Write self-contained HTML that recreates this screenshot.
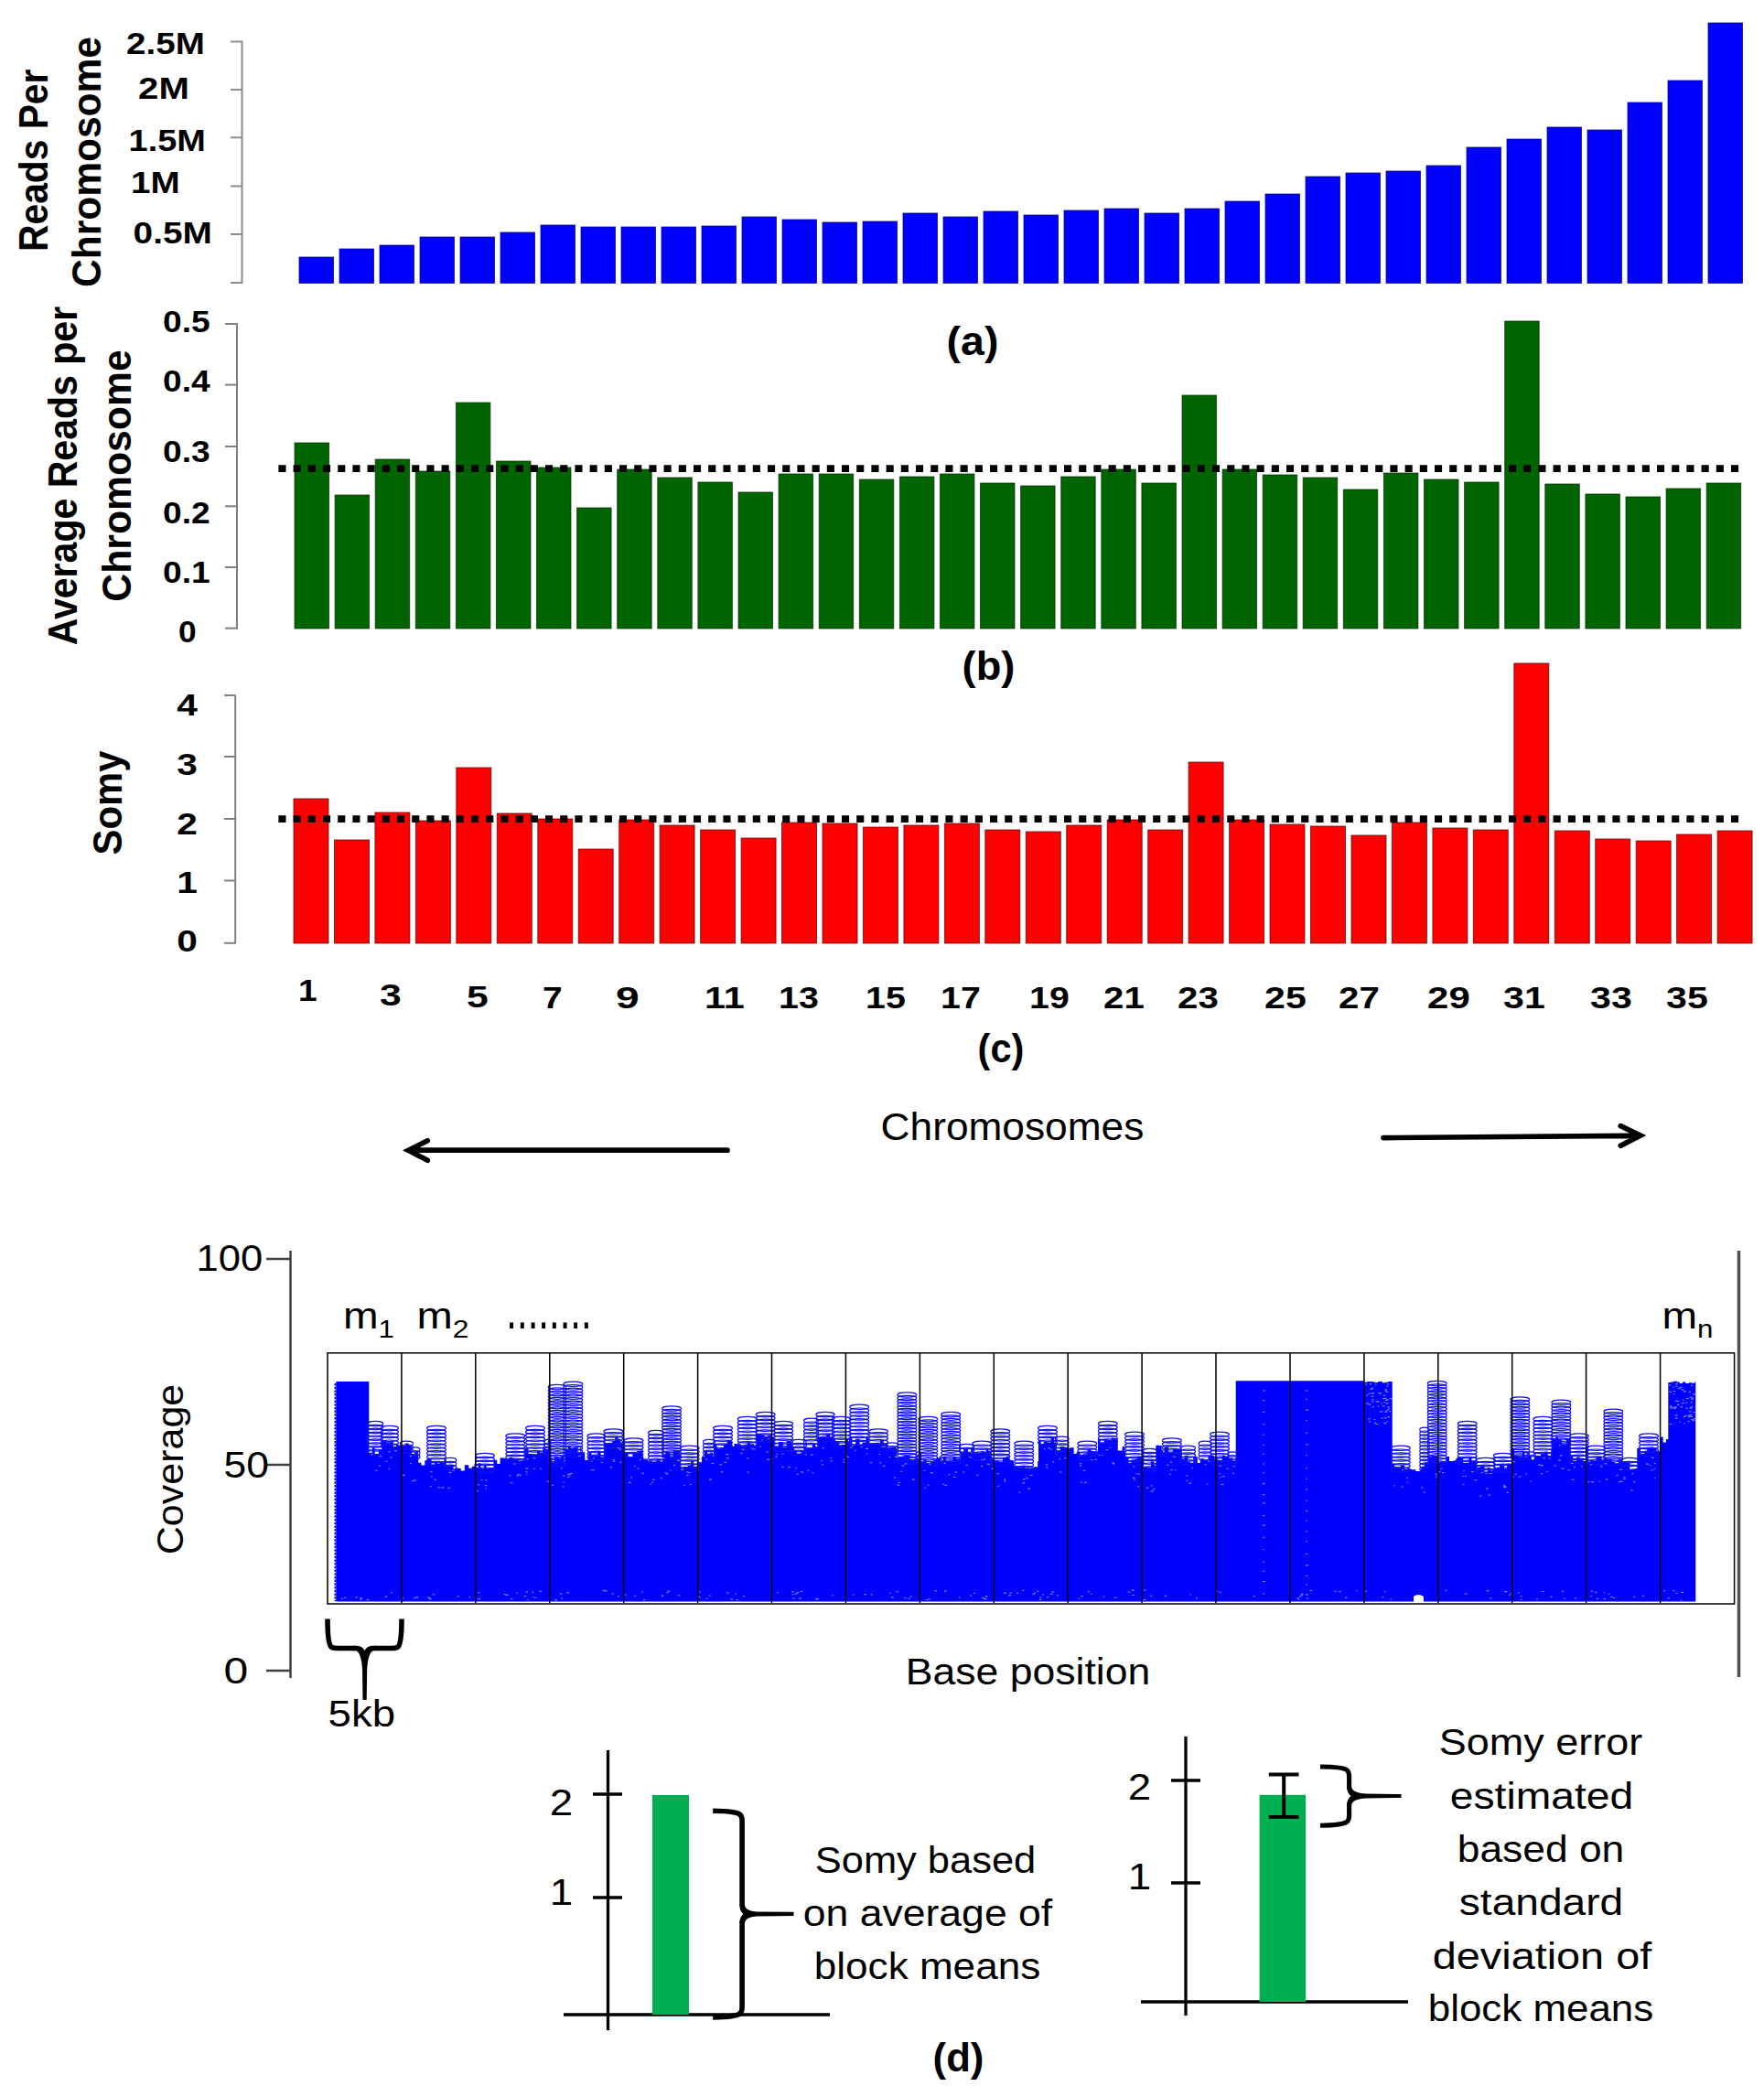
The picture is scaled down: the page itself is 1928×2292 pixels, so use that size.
<!DOCTYPE html>
<html lang="en"><head><meta charset="utf-8"><title>Figure</title>
<style>html,body{margin:0;padding:0;background:#fff}svg{display:block}</style></head>
<body>
<svg width="1928" height="2292" viewBox="0 0 1928 2292">
<rect width="1928" height="2292" fill="#fff"/>
<g fill="#0000ff" stroke="#000060" stroke-opacity=".7" stroke-width="1">
<rect x="327.0" y="281" width="37.5" height="28.5"/>
<rect x="371.0" y="272" width="37.5" height="37.5"/>
<rect x="415.0" y="268" width="37.5" height="41.5"/>
<rect x="459.0" y="259" width="37.5" height="50.5"/>
<rect x="503.0" y="259" width="37.5" height="50.5"/>
<rect x="547.0" y="254" width="37.5" height="55.5"/>
<rect x="591.0" y="246" width="37.5" height="63.5"/>
<rect x="635.0" y="248" width="37.5" height="61.5"/>
<rect x="679.0" y="248" width="37.5" height="61.5"/>
<rect x="723.0" y="248" width="37.5" height="61.5"/>
<rect x="767.0" y="247" width="37.5" height="62.5"/>
<rect x="811.0" y="237" width="37.5" height="72.5"/>
<rect x="855.0" y="240" width="37.5" height="69.5"/>
<rect x="899.0" y="243" width="37.5" height="66.5"/>
<rect x="943.0" y="242" width="37.5" height="67.5"/>
<rect x="987.0" y="233" width="37.5" height="76.5"/>
<rect x="1031.0" y="237" width="37.5" height="72.5"/>
<rect x="1075.0" y="231" width="37.5" height="78.5"/>
<rect x="1119.0" y="235" width="37.5" height="74.5"/>
<rect x="1163.0" y="230" width="37.5" height="79.5"/>
<rect x="1207.0" y="228" width="37.5" height="81.5"/>
<rect x="1251.0" y="233" width="37.5" height="76.5"/>
<rect x="1295.0" y="228" width="37.5" height="81.5"/>
<rect x="1339.0" y="220" width="37.5" height="89.5"/>
<rect x="1383.0" y="212" width="37.5" height="97.5"/>
<rect x="1427.0" y="193" width="37.5" height="116.5"/>
<rect x="1471.0" y="189" width="37.5" height="120.5"/>
<rect x="1515.0" y="187" width="37.5" height="122.5"/>
<rect x="1559.0" y="181" width="37.5" height="128.5"/>
<rect x="1603.0" y="161" width="37.5" height="148.5"/>
<rect x="1647.0" y="152" width="37.5" height="157.5"/>
<rect x="1691.0" y="139" width="37.5" height="170.5"/>
<rect x="1735.0" y="142" width="37.5" height="167.5"/>
<rect x="1779.0" y="112" width="37.5" height="197.5"/>
<rect x="1823.0" y="88" width="37.5" height="221.5"/>
<rect x="1867.0" y="25" width="37.5" height="284.5"/>
</g>
<g stroke="#8c8c8c" stroke-width="2" fill="none">
<path d="M264.5 44.5V310"/>
<path d="M252 45.5H264.5"/>
<path d="M252 98H264.5"/>
<path d="M252 150.3H264.5"/>
<path d="M252 203.5H264.5"/>
<path d="M252 256H264.5"/>
<path d="M252 309H264.5"/>
</g>
<g fill="#006400" stroke="#002a00" stroke-opacity=".7" stroke-width="1">
<rect x="322.0" y="484" width="37.5" height="203.0"/>
<rect x="366.1" y="541" width="37.5" height="146.0"/>
<rect x="410.2" y="502" width="37.5" height="185.0"/>
<rect x="454.3" y="515" width="37.5" height="172.0"/>
<rect x="498.4" y="440" width="37.5" height="247.0"/>
<rect x="542.5" y="504" width="37.5" height="183.0"/>
<rect x="586.5" y="511" width="37.5" height="176.0"/>
<rect x="630.6" y="555" width="37.5" height="132.0"/>
<rect x="674.7" y="513" width="37.5" height="174.0"/>
<rect x="718.8" y="522" width="37.5" height="165.0"/>
<rect x="762.9" y="527" width="37.5" height="160.0"/>
<rect x="807.0" y="538" width="37.5" height="149.0"/>
<rect x="851.1" y="518" width="37.5" height="169.0"/>
<rect x="895.2" y="518" width="37.5" height="169.0"/>
<rect x="939.3" y="524" width="37.5" height="163.0"/>
<rect x="983.4" y="521" width="37.5" height="166.0"/>
<rect x="1027.4" y="518" width="37.5" height="169.0"/>
<rect x="1071.5" y="528" width="37.5" height="159.0"/>
<rect x="1115.6" y="531" width="37.5" height="156.0"/>
<rect x="1159.7" y="521" width="37.5" height="166.0"/>
<rect x="1203.8" y="513" width="37.5" height="174.0"/>
<rect x="1247.9" y="528" width="37.5" height="159.0"/>
<rect x="1292.0" y="432" width="37.5" height="255.0"/>
<rect x="1336.1" y="513" width="37.5" height="174.0"/>
<rect x="1380.2" y="519" width="37.5" height="168.0"/>
<rect x="1424.2" y="522" width="37.5" height="165.0"/>
<rect x="1468.3" y="535" width="37.5" height="152.0"/>
<rect x="1512.4" y="517" width="37.5" height="170.0"/>
<rect x="1556.5" y="524" width="37.5" height="163.0"/>
<rect x="1600.6" y="527" width="37.5" height="160.0"/>
<rect x="1644.7" y="351" width="37.5" height="336.0"/>
<rect x="1688.8" y="529" width="37.5" height="158.0"/>
<rect x="1732.9" y="540" width="37.5" height="147.0"/>
<rect x="1777.0" y="543" width="37.5" height="144.0"/>
<rect x="1821.1" y="534" width="37.5" height="153.0"/>
<rect x="1865.2" y="528" width="37.5" height="159.0"/>
</g>
<g stroke="#808080" stroke-width="2" fill="none">
<path d="M259 353V687.7"/>
<path d="M246 354H259"/>
<path d="M246 420.6H259"/>
<path d="M246 488H259"/>
<path d="M246 553.3H259"/>
<path d="M246 620H259"/>
<path d="M246 686.7H259"/>
</g>
<path d="M304.4 512.1H1901" stroke="#000" stroke-width="7.7" stroke-dasharray="8.1 8.1" fill="none"/>
<g fill="#ff0000" stroke="#500000" stroke-opacity=".7" stroke-width="1">
<rect x="321.0" y="873" width="38" height="158.0"/>
<rect x="365.5" y="918" width="38" height="113.0"/>
<rect x="409.9" y="888" width="38" height="143.0"/>
<rect x="454.4" y="897" width="38" height="134.0"/>
<rect x="498.8" y="839" width="38" height="192.0"/>
<rect x="543.3" y="889" width="38" height="142.0"/>
<rect x="587.8" y="895" width="38" height="136.0"/>
<rect x="632.2" y="928" width="38" height="103.0"/>
<rect x="676.7" y="896" width="38" height="135.0"/>
<rect x="721.1" y="902" width="38" height="129.0"/>
<rect x="765.6" y="907" width="38" height="124.0"/>
<rect x="810.1" y="916" width="38" height="115.0"/>
<rect x="854.5" y="899" width="38" height="132.0"/>
<rect x="899.0" y="900" width="38" height="131.0"/>
<rect x="943.4" y="904" width="38" height="127.0"/>
<rect x="987.9" y="902" width="38" height="129.0"/>
<rect x="1032.4" y="900" width="38" height="131.0"/>
<rect x="1076.8" y="907" width="38" height="124.0"/>
<rect x="1121.3" y="909" width="38" height="122.0"/>
<rect x="1165.7" y="902" width="38" height="129.0"/>
<rect x="1210.2" y="896" width="38" height="135.0"/>
<rect x="1254.7" y="907" width="38" height="124.0"/>
<rect x="1299.1" y="833" width="38" height="198.0"/>
<rect x="1343.6" y="896" width="38" height="135.0"/>
<rect x="1388.0" y="901" width="38" height="130.0"/>
<rect x="1432.5" y="903" width="38" height="128.0"/>
<rect x="1477.0" y="913" width="38" height="118.0"/>
<rect x="1521.4" y="899" width="38" height="132.0"/>
<rect x="1565.9" y="905" width="38" height="126.0"/>
<rect x="1610.3" y="907" width="38" height="124.0"/>
<rect x="1654.8" y="725" width="38" height="306.0"/>
<rect x="1699.3" y="908" width="38" height="123.0"/>
<rect x="1743.7" y="917" width="38" height="114.0"/>
<rect x="1788.2" y="919" width="38" height="112.0"/>
<rect x="1832.6" y="912" width="38" height="119.0"/>
<rect x="1877.1" y="908" width="38" height="123.0"/>
</g>
<g stroke="#808080" stroke-width="2" fill="none">
<path d="M257.2 759.5V1031.5"/>
<path d="M245 760H257.2"/>
<path d="M245 827H257.2"/>
<path d="M245 895H257.2"/>
<path d="M245 962.5H257.2"/>
<path d="M245 1030.8H257.2"/>
</g>
<path d="M304.4 895.2H1901" stroke="#000" stroke-width="7.7" stroke-dasharray="8.1 8.1" fill="none"/>
<g font-family='"Liberation Sans", Arial, sans-serif'>
<text font-size="34" font-weight="bold" textLength="85.7" lengthAdjust="spacingAndGlyphs" x="138.1" y="58.7">2.5M</text>
<text font-size="34" font-weight="bold" textLength="55.7" lengthAdjust="spacingAndGlyphs" x="151.1" y="108.3">2M</text>
<text font-size="34" font-weight="bold" textLength="84.2" lengthAdjust="spacingAndGlyphs" x="140.6" y="165.3">1.5M</text>
<text font-size="34" font-weight="bold" textLength="53.7" lengthAdjust="spacingAndGlyphs" x="143.1" y="211.3">1M</text>
<text font-size="34" font-weight="bold" textLength="86.2" lengthAdjust="spacingAndGlyphs" x="145.6" y="265.8">0.5M</text>
<text font-size="44" font-weight="bold" text-anchor="middle" textLength="199.3" lengthAdjust="spacingAndGlyphs" transform="translate(51.7 175.3) rotate(-90)">Reads Per</text>
<text font-size="44" font-weight="bold" text-anchor="middle" textLength="273.8" lengthAdjust="spacingAndGlyphs" transform="translate(110 177) rotate(-90)">Chromosome</text>
<text font-size="34" font-weight="bold" textLength="51.7" lengthAdjust="spacingAndGlyphs" x="178.1" y="363.0">0.5</text>
<text font-size="34" font-weight="bold" textLength="51.7" lengthAdjust="spacingAndGlyphs" x="178.1" y="428.0">0.4</text>
<text font-size="34" font-weight="bold" textLength="51.7" lengthAdjust="spacingAndGlyphs" x="178.1" y="505.0">0.3</text>
<text font-size="34" font-weight="bold" textLength="51.7" lengthAdjust="spacingAndGlyphs" x="178.1" y="572.0">0.2</text>
<text font-size="34" font-weight="bold" textLength="51.7" lengthAdjust="spacingAndGlyphs" x="178.1" y="636.5">0.1</text>
<text font-size="34" font-weight="bold" textLength="19.7" lengthAdjust="spacingAndGlyphs" x="195.1" y="701.5">0</text>
<text font-size="44" font-weight="bold" text-anchor="middle" textLength="370.3" lengthAdjust="spacingAndGlyphs" transform="translate(84 520) rotate(-90)">Average Reads per</text>
<text font-size="44" font-weight="bold" text-anchor="middle" textLength="275.3" lengthAdjust="spacingAndGlyphs" transform="translate(142.5 520) rotate(-90)">Chromosome</text>
<text font-size="33" font-weight="bold" textLength="22.6" lengthAdjust="spacingAndGlyphs" x="193.2" y="782.0">4</text>
<text font-size="33" font-weight="bold" textLength="22.6" lengthAdjust="spacingAndGlyphs" x="193.2" y="847.0">3</text>
<text font-size="33" font-weight="bold" textLength="22.6" lengthAdjust="spacingAndGlyphs" x="193.2" y="911.5">2</text>
<text font-size="33" font-weight="bold" textLength="22.6" lengthAdjust="spacingAndGlyphs" x="193.2" y="975.5">1</text>
<text font-size="33" font-weight="bold" textLength="22.6" lengthAdjust="spacingAndGlyphs" x="193.2" y="1039.5">0</text>
<text font-size="44" font-weight="bold" text-anchor="middle" textLength="113.8" lengthAdjust="spacingAndGlyphs" transform="translate(132.5 877.5) rotate(-90)">Somy</text>
<text font-size="34" font-weight="bold" textLength="20.7" lengthAdjust="spacingAndGlyphs" x="326.1" y="1094">1</text>
<text font-size="34" font-weight="bold" textLength="23.7" lengthAdjust="spacingAndGlyphs" x="415.1" y="1099">3</text>
<text font-size="34" font-weight="bold" textLength="23.7" lengthAdjust="spacingAndGlyphs" x="510.1" y="1101">5</text>
<text font-size="34" font-weight="bold" textLength="21.7" lengthAdjust="spacingAndGlyphs" x="593.1" y="1102">7</text>
<text font-size="34" font-weight="bold" textLength="25.7" lengthAdjust="spacingAndGlyphs" x="673.1" y="1102">9</text>
<text font-size="34" font-weight="bold" textLength="43.7" lengthAdjust="spacingAndGlyphs" x="770.1" y="1102">11</text>
<text font-size="34" font-weight="bold" textLength="43.7" lengthAdjust="spacingAndGlyphs" x="851.1" y="1102">13</text>
<text font-size="34" font-weight="bold" textLength="43.7" lengthAdjust="spacingAndGlyphs" x="946.1" y="1102">15</text>
<text font-size="34" font-weight="bold" textLength="43.7" lengthAdjust="spacingAndGlyphs" x="1028.1" y="1102">17</text>
<text font-size="34" font-weight="bold" textLength="43.7" lengthAdjust="spacingAndGlyphs" x="1125.1" y="1102">19</text>
<text font-size="34" font-weight="bold" textLength="44.7" lengthAdjust="spacingAndGlyphs" x="1206.1" y="1102">21</text>
<text font-size="34" font-weight="bold" textLength="44.7" lengthAdjust="spacingAndGlyphs" x="1287.1" y="1102">23</text>
<text font-size="34" font-weight="bold" textLength="45.7" lengthAdjust="spacingAndGlyphs" x="1382.1" y="1102">25</text>
<text font-size="34" font-weight="bold" textLength="44.7" lengthAdjust="spacingAndGlyphs" x="1463.1" y="1102">27</text>
<text font-size="34" font-weight="bold" textLength="46.7" lengthAdjust="spacingAndGlyphs" x="1560.1" y="1102">29</text>
<text font-size="34" font-weight="bold" textLength="45.7" lengthAdjust="spacingAndGlyphs" x="1643.1" y="1102">31</text>
<text font-size="34" font-weight="bold" textLength="45.7" lengthAdjust="spacingAndGlyphs" x="1738.1" y="1102">33</text>
<text font-size="34" font-weight="bold" textLength="45.7" lengthAdjust="spacingAndGlyphs" x="1821.1" y="1102">35</text>
<text font-size="44" font-weight="bold" text-anchor="middle" textLength="56.8" lengthAdjust="spacingAndGlyphs" x="1063" y="388">(a)</text>
<text font-size="44" font-weight="bold" text-anchor="middle" textLength="57.8" lengthAdjust="spacingAndGlyphs" x="1080.5" y="743">(b)</text>
<text font-size="44" font-weight="bold" text-anchor="middle" textLength="50.8" lengthAdjust="spacingAndGlyphs" x="1094" y="1161">(c)</text>
<text font-size="44" font-weight="bold" text-anchor="middle" textLength="55.8" lengthAdjust="spacingAndGlyphs" x="1047.5" y="2264">(d)</text>
<text font-size="43" textLength="287.7" lengthAdjust="spacingAndGlyphs" x="962.6" y="1246">Chromosomes</text>
</g>
<g stroke="#000" stroke-width="5.7" fill="none" stroke-linecap="round" stroke-linejoin="miter">
<path d="M795 1257.2H449M467.3 1246.7L446.3 1257.2L467.3 1268.3"/>
<path d="M1512 1243.6L1791 1241.2M1771.3 1230.6L1793 1241.1L1771.3 1252.3"/>
</g>
<path d="M367.3 1750.5L367.3 1510.0L370.6 1510.0L370.6 1510.0L373.5 1510.0L373.5 1510.0L377.6 1510.0L377.6 1510.0L380.3 1510.0L380.3 1510.0L384.2 1510.0L384.2 1510.0L387.6 1510.0L387.6 1510.0L390.2 1510.0L390.2 1510.0L394.0 1510.0L394.0 1510.0L396.6 1510.0L396.6 1510.0L400.2 1510.0L400.2 1510.0L402.8 1510.0L402.8 1510.0L403.3 1510.0L403.3 1587.8L406.9 1587.8L406.9 1582.3L409.7 1582.3L409.7 1588.9L413.8 1588.9L413.8 1583.9L417.3 1583.9L417.3 1574.1L422.3 1574.1L422.3 1576.3L426.9 1576.3L426.9 1574.7L429.8 1574.7L429.8 1581.0L433.1 1581.0L433.1 1578.9L434.0 1578.9L438.7 1580.4L442.8 1580.4L442.8 1577.6L446.6 1577.6L446.6 1578.9L449.3 1578.9L449.3 1580.8L450.0 1580.8L450.0 1588.9L453.3 1588.9L453.3 1586.4L456.9 1586.4L456.9 1590.0L457.3 1590.0L457.3 1598.8L460.4 1598.8L460.4 1601.5L464.3 1601.5L464.3 1596.3L466.7 1596.3L466.7 1594.7L471.6 1594.7L471.6 1600.5L475.2 1600.5L475.2 1598.1L478.0 1598.1L478.0 1599.7L480.6 1599.7L480.6 1598.8L485.1 1598.8L485.1 1596.5L487.3 1596.5L487.3 1602.3L491.6 1602.3L491.6 1601.1L495.5 1601.1L495.5 1605.5L497.3 1605.5L497.3 1604.6L501.0 1604.6L501.0 1605.0L503.7 1605.0L503.7 1607.6L507.8 1607.6L507.8 1601.2L512.3 1601.2L512.3 1604.7L515.8 1604.7L515.8 1602.8L518.4 1602.8L518.4 1599.7L520.0 1599.7L520.0 1603.9L522.6 1603.9L522.6 1599.2L525.5 1599.2L525.5 1604.8L528.9 1604.8L528.9 1601.0L531.6 1601.0L531.6 1605.0L535.5 1605.0L535.5 1604.8L540.0 1604.8L540.0 1595.7L543.2 1595.7L543.2 1600.0L546.6 1600.0L546.6 1593.4L551.5 1593.4L551.5 1594.1L553.3 1594.1L553.3 1594.7L556.4 1594.7L556.4 1592.7L560.4 1592.7L560.4 1594.1L562.9 1594.1L562.9 1595.4L566.3 1595.4L566.3 1596.5L571.2 1596.5L571.2 1595.9L573.3 1595.9L573.3 1582.5L577.5 1582.5L577.5 1589.0L582.3 1589.0L582.3 1589.2L587.0 1589.2L587.0 1585.6L590.4 1585.6L590.4 1587.7L593.2 1587.7L593.2 1582.6L595.9 1582.6L595.9 1583.5L596.7 1583.5L596.7 1584.1L600.0 1584.1L600.0 1585.0L600.7 1585.0L600.7 1593.6L603.4 1593.6L603.4 1598.2L606.0 1598.2L606.0 1591.7L610.0 1591.7L610.0 1593.5L613.1 1593.5L613.1 1591.4L616.6 1591.4L616.6 1599.3L617.3 1599.3L617.3 1584.7L621.0 1584.7L621.0 1581.3L623.7 1581.3L623.7 1582.7L627.1 1582.7L627.1 1581.8L631.6 1581.8L631.6 1588.9L634.2 1588.9L634.2 1581.7L635.3 1581.7L635.3 1587.2L639.2 1587.2L639.2 1595.8L643.0 1595.8L643.0 1593.3L643.3 1593.3L643.3 1587.0L646.5 1587.0L646.5 1590.6L649.4 1590.6L649.4 1590.7L653.2 1590.7L653.2 1585.7L656.6 1585.7L656.6 1592.5L660.0 1592.5L660.0 1577.6L664.6 1577.6L664.6 1577.0L669.2 1577.0L669.2 1575.0L672.2 1575.0L672.2 1570.6L675.6 1570.6L675.6 1572.8L678.2 1572.8L678.2 1576.6L680.7 1576.6L681.7 1587.7L686.6 1587.7L686.6 1592.6L691.4 1592.6L691.4 1586.9L696.3 1586.9L696.3 1585.7L699.3 1585.7L699.3 1585.5L702.3 1585.5L702.3 1591.8L703.3 1591.8L703.3 1594.6L707.9 1594.6L707.9 1597.5L710.0 1597.5L710.0 1596.3L712.7 1596.3L712.7 1597.4L717.5 1597.4L717.5 1594.6L721.9 1594.6L721.9 1597.4L724.0 1597.4L724.0 1590.9L727.3 1590.9L727.3 1587.2L732.3 1587.2L732.3 1592.2L735.8 1592.2L735.8 1585.2L740.1 1585.2L740.1 1585.0L742.9 1585.0L742.9 1590.9L744.0 1590.9L744.0 1604.4L746.9 1604.4L746.9 1602.9L751.8 1602.9L751.8 1601.9L755.2 1601.9L755.2 1597.1L758.0 1597.1L758.0 1602.8L762.9 1602.8L762.9 1605.4L763.3 1605.4L763.3 1598.2L766.9 1598.2L766.9 1592.2L770.0 1592.2L770.0 1586.3L773.1 1586.3L773.1 1588.9L776.2 1588.9L776.2 1587.4L779.4 1587.4L779.4 1591.9L780.0 1591.9L780.0 1577.8L783.4 1577.8L783.4 1581.8L787.3 1581.8L787.3 1581.9L790.9 1581.9L790.9 1578.5L794.6 1578.5L794.6 1573.8L798.5 1573.8L798.5 1575.3L800.0 1575.3L800.0 1580.9L802.5 1580.9L802.5 1577.9L805.4 1577.9L805.4 1578.7L806.7 1578.7L806.7 1578.3L810.0 1578.3L810.0 1580.7L813.9 1580.7L813.9 1578.7L816.6 1578.7L816.6 1576.2L819.8 1576.2L819.8 1578.2L824.2 1578.2L824.2 1580.5L826.7 1580.5L826.7 1567.7L831.4 1567.7L831.4 1568.2L835.5 1568.2L835.5 1569.9L839.3 1569.9L839.3 1568.5L842.9 1568.5L842.9 1572.1L846.6 1572.1L846.7 1581.6L850.9 1581.6L850.9 1576.0L855.8 1576.0L855.8 1582.2L859.7 1582.2L859.7 1574.9L864.3 1574.9L864.3 1577.6L865.7 1577.6L865.7 1582.5L868.3 1582.5L868.3 1586.4L871.0 1586.4L871.0 1588.4L875.5 1588.4L875.5 1586.8L878.4 1586.8L878.4 1581.6L880.0 1581.6L880.0 1582.4L884.7 1582.4L884.7 1582.2L887.8 1582.2L887.8 1578.1L891.3 1578.1L891.3 1581.2L893.3 1581.2L893.3 1570.9L896.2 1570.9L896.2 1570.1L900.0 1570.1L900.0 1569.9L903.0 1569.9L903.0 1567.2L907.3 1567.2L907.3 1571.0L910.7 1571.0L910.7 1573.3L913.2 1573.3L913.2 1574.9L917.3 1574.9L917.3 1579.2L919.9 1579.2L919.9 1579.1L924.4 1579.1L924.4 1572.7L927.2 1572.7L927.2 1577.3L928.0 1577.3L928.3 1571.5L931.5 1571.5L931.5 1578.5L935.1 1578.5L935.1 1572.7L939.6 1572.7L939.6 1578.6L942.5 1578.6L942.5 1576.6L946.4 1576.6L946.4 1570.9L949.1 1570.9L949.1 1574.2L950.0 1574.2L950.0 1578.8L952.7 1578.8L952.7 1577.5L956.8 1577.5L956.8 1578.0L959.5 1578.0L959.5 1578.1L962.1 1578.1L962.1 1573.4L965.8 1573.4L965.8 1578.7L969.7 1578.7L969.7 1571.5L970.0 1571.5L970.0 1582.5L973.8 1582.5L973.8 1581.8L976.6 1581.8L976.6 1582.1L979.2 1582.1L979.2 1583.1L980.0 1583.1L980.0 1592.9L984.4 1592.9L984.4 1591.9L988.1 1591.9L988.1 1590.5L991.5 1590.5L991.5 1590.5L994.6 1590.5L994.6 1595.3L999.0 1595.3L999.0 1594.6L1001.9 1594.6L1001.9 1591.3L1002.7 1591.3L1002.7 1594.2L1005.3 1594.2L1005.3 1597.8L1009.1 1597.8L1009.1 1594.9L1012.6 1594.9L1012.6 1599.2L1016.8 1599.2L1016.8 1597.8L1020.1 1597.8L1020.1 1596.1L1023.3 1596.1L1023.3 1593.5L1026.8 1593.5L1026.8 1591.5L1028.3 1591.5L1028.3 1597.0L1031.0 1597.0L1031.0 1591.8L1034.1 1591.8L1034.1 1597.9L1036.9 1597.9L1036.9 1596.4L1041.5 1596.4L1041.5 1592.5L1044.7 1592.5L1044.7 1594.5L1048.0 1594.5L1048.0 1594.3L1050.0 1594.3L1050.0 1587.3L1053.2 1587.3L1053.2 1583.6L1058.1 1583.6L1058.1 1587.4L1061.2 1587.4L1061.2 1581.9L1063.3 1581.9L1063.3 1587.1L1065.8 1587.1L1065.8 1588.2L1069.5 1588.2L1069.5 1588.2L1072.5 1588.2L1072.5 1586.0L1075.0 1586.0L1075.0 1587.3L1077.8 1587.3L1077.8 1583.9L1080.4 1583.9L1080.4 1585.8L1083.3 1585.8L1083.3 1595.1L1087.3 1595.1L1087.3 1596.3L1091.7 1596.3L1091.7 1598.2L1096.0 1598.2L1096.0 1593.3L1099.4 1593.3L1099.4 1591.7L1103.3 1591.7L1103.3 1596.1L1107.6 1596.1L1107.6 1597.9L1108.3 1597.9L1108.3 1602.6L1113.1 1602.6L1113.1 1604.3L1117.4 1604.3L1117.4 1601.7L1120.2 1601.7L1120.2 1604.5L1124.0 1604.5L1124.0 1604.4L1128.5 1604.4L1128.5 1605.0L1130.0 1605.0L1130.0 1603.2L1134.2 1603.2L1134.2 1597.3L1135.0 1597.3L1135.0 1573.6L1137.8 1573.6L1137.8 1577.9L1140.6 1577.9L1140.6 1576.0L1144.5 1576.0L1144.5 1576.5L1148.6 1576.5L1148.6 1570.4L1152.3 1570.4L1152.3 1577.1L1155.0 1577.1L1155.0 1585.2L1158.8 1585.2L1158.8 1580.9L1162.9 1580.9L1162.9 1582.6L1166.7 1582.6L1166.7 1582.7L1169.4 1582.7L1169.4 1582.2L1173.7 1582.2L1173.7 1589.1L1176.7 1589.1L1176.7 1587.1L1180.4 1587.1L1180.4 1589.8L1184.1 1589.8L1184.1 1589.2L1188.5 1589.2L1188.5 1584.4L1192.6 1584.4L1192.6 1586.0L1195.5 1586.0L1195.5 1586.4L1199.9 1586.4L1199.9 1583.8L1200.0 1583.8L1200.0 1572.8L1202.7 1572.8L1202.7 1576.6L1206.8 1576.6L1206.8 1573.0L1211.0 1573.0L1211.0 1574.5L1214.8 1574.5L1214.8 1571.4L1218.5 1571.4L1218.5 1572.1L1221.7 1572.1L1221.7 1585.4L1226.6 1585.4L1226.6 1581.1L1229.2 1581.1L1229.2 1585.7L1230.0 1585.7L1230.0 1592.8L1233.6 1592.8L1233.6 1598.8L1236.6 1598.8L1236.6 1595.6L1239.7 1595.6L1239.7 1595.0L1242.5 1595.0L1242.5 1591.5L1247.4 1591.5L1247.4 1594.9L1250.0 1594.9L1250.0 1603.3L1254.7 1603.3L1254.7 1605.1L1257.8 1605.1L1257.8 1597.2L1261.5 1597.2L1261.5 1601.4L1263.3 1601.4L1263.3 1579.7L1267.0 1579.7L1267.0 1580.1L1269.8 1580.1L1269.8 1584.6L1270.0 1584.6L1270.0 1587.1L1272.5 1587.1L1272.5 1581.4L1277.1 1581.4L1277.1 1586.8L1281.9 1586.8L1281.9 1582.9L1286.7 1582.9L1286.7 1583.9L1290.1 1583.9L1290.1 1585.6L1291.7 1585.6L1291.7 1594.2L1295.1 1594.2L1295.1 1590.8L1298.3 1590.8L1298.3 1597.8L1301.0 1597.8L1301.0 1598.8L1304.2 1598.8L1304.2 1592.7L1305.0 1592.7L1305.0 1592.0L1308.8 1592.0L1308.8 1598.9L1311.7 1598.9L1311.7 1594.3L1316.4 1594.3L1316.4 1595.2L1320.5 1595.2L1320.5 1591.9L1322.7 1591.9L1322.7 1590.8L1327.0 1590.8L1327.0 1594.4L1331.3 1594.4L1331.3 1596.1L1335.7 1596.1L1335.7 1590.8L1338.9 1590.8L1338.9 1591.5L1343.3 1591.5L1343.3 1593.4L1347.0 1593.4L1347.0 1597.0L1350.3 1597.0L1350.3 1592.7L1350.7 1592.7L1350.7 1509.3L1354.8 1509.3L1354.8 1509.3L1358.1 1509.3L1358.1 1509.3L1362.0 1509.3L1362.0 1509.3L1365.4 1509.3L1365.4 1509.3L1368.4 1509.3L1368.4 1509.3L1371.3 1509.3L1371.3 1509.3L1374.3 1509.3L1374.3 1509.3L1379.0 1509.3L1379.0 1509.3L1382.8 1509.3L1382.8 1509.3L1385.8 1509.3L1385.8 1509.3L1390.6 1509.3L1390.6 1509.3L1395.6 1509.3L1395.6 1509.3L1399.2 1509.3L1399.2 1509.3L1402.1 1509.3L1402.1 1509.3L1405.0 1509.3L1405.0 1509.3L1407.8 1509.3L1407.8 1509.3L1411.1 1509.3L1411.1 1509.3L1413.9 1509.3L1413.9 1509.3L1417.0 1509.3L1417.0 1509.3L1420.1 1509.3L1420.1 1509.3L1424.0 1509.3L1424.0 1509.3L1428.7 1509.3L1428.7 1509.3L1433.1 1509.3L1433.1 1509.3L1436.7 1509.3L1436.7 1509.3L1440.2 1509.3L1440.2 1509.3L1444.0 1509.3L1444.0 1509.3L1447.4 1509.3L1447.4 1509.3L1450.8 1509.3L1450.8 1509.3L1453.4 1509.3L1453.4 1509.3L1456.6 1509.3L1456.6 1509.3L1461.6 1509.3L1461.6 1509.3L1464.4 1509.3L1464.4 1509.3L1468.1 1509.3L1468.1 1509.3L1472.2 1509.3L1472.2 1509.3L1476.9 1509.3L1476.9 1509.3L1479.9 1509.3L1479.9 1509.3L1483.1 1509.3L1483.1 1509.3L1486.2 1509.3L1486.2 1509.3L1488.0 1509.3L1351.7 1509.3L1355.3 1509.3L1355.3 1509.3L1360.2 1509.3L1360.2 1509.3L1364.8 1509.3L1364.8 1509.3L1369.5 1509.3L1369.5 1509.3L1372.0 1509.3L1372.0 1509.3L1374.6 1509.3L1374.6 1509.3L1378.9 1509.3L1378.9 1509.3L1383.6 1509.3L1383.6 1509.3L1387.3 1509.3L1387.3 1509.3L1391.3 1509.3L1391.3 1509.3L1393.8 1509.3L1393.8 1509.3L1397.2 1509.3L1397.2 1509.3L1402.1 1509.3L1402.1 1509.3L1406.6 1509.3L1406.6 1509.3L1411.3 1509.3L1411.3 1509.3L1416.2 1509.3L1416.2 1509.3L1419.3 1509.3L1419.3 1509.3L1422.1 1509.3L1422.1 1509.3L1425.0 1509.3L1425.0 1509.3L1428.8 1509.3L1428.8 1509.3L1433.0 1509.3L1433.0 1509.3L1437.8 1509.3L1437.8 1509.3L1442.1 1509.3L1442.1 1509.3L1446.3 1509.3L1446.3 1509.3L1450.7 1509.3L1450.7 1509.3L1454.3 1509.3L1454.3 1509.3L1458.2 1509.3L1458.2 1509.3L1460.8 1509.3L1460.8 1509.3L1465.3 1509.3L1465.3 1509.3L1468.3 1509.3L1468.3 1509.3L1473.1 1509.3L1473.1 1509.3L1477.2 1509.3L1477.2 1509.3L1480.5 1509.3L1480.5 1509.3L1483.3 1509.3L1483.3 1509.3L1486.5 1509.3L1486.5 1509.3L1490.5 1509.3L1490.5 1509.3L1491.7 1509.3L1491.7 1510.8L1494.4 1510.8L1494.4 1510.1L1498.4 1510.1L1498.4 1510.3L1502.4 1510.3L1502.4 1511.1L1506.1 1511.1L1506.1 1510.1L1510.8 1510.1L1510.8 1511.3L1513.9 1511.3L1513.9 1510.7L1517.2 1510.7L1517.2 1510.1L1521.3 1510.1L1521.3 1510.1L1521.7 1510.1L1521.7 1600.0L1524.3 1600.0L1524.3 1603.1L1527.8 1603.1L1527.8 1604.2L1530.8 1604.2L1530.8 1601.5L1535.1 1601.5L1535.1 1605.7L1538.2 1605.7L1538.2 1604.4L1540.0 1604.4L1540.0 1605.7L1543.1 1605.7L1543.1 1606.3L1547.5 1606.3L1547.5 1608.1L1552.4 1608.1L1552.4 1605.7L1553.3 1605.7L1553.3 1603.0L1556.9 1603.0L1556.9 1598.3L1560.7 1598.3L1560.7 1592.2L1564.2 1592.2L1564.2 1591.6L1569.1 1591.6L1569.1 1590.9L1571.7 1590.9L1571.7 1598.4L1575.2 1598.4L1575.2 1596.9L1579.9 1596.9L1579.9 1598.7L1580.7 1598.7L1580.7 1592.0L1584.0 1592.0L1584.0 1597.1L1588.8 1597.1L1588.8 1596.3L1591.4 1596.3L1591.4 1593.7L1593.3 1593.7L1593.3 1591.9L1596.7 1591.9L1596.7 1592.9L1599.2 1592.9L1599.2 1598.9L1602.5 1598.9L1602.5 1599.0L1605.4 1599.0L1605.4 1593.5L1608.4 1593.5L1608.4 1597.7L1612.9 1597.7L1612.9 1590.8L1614.0 1590.8L1614.0 1603.7L1617.7 1603.7L1617.7 1602.1L1622.5 1602.1L1622.5 1608.4L1625.9 1608.4L1625.9 1604.0L1628.5 1604.0L1628.5 1607.2L1633.0 1607.2L1633.0 1600.6L1633.3 1600.6L1633.3 1605.3L1636.0 1605.3L1636.0 1603.7L1639.1 1603.7L1639.1 1600.1L1643.9 1600.1L1643.9 1605.6L1647.1 1605.6L1647.1 1599.4L1651.1 1599.4L1651.1 1599.8L1652.0 1599.8L1652.0 1583.7L1655.2 1583.7L1655.2 1591.9L1659.6 1591.9L1659.6 1592.2L1663.7 1592.2L1663.7 1585.8L1666.2 1585.8L1666.2 1592.3L1669.9 1592.3L1669.9 1587.1L1670.7 1587.1L1670.7 1590.9L1673.8 1590.9L1673.8 1595.4L1676.7 1595.4L1676.7 1590.9L1679.6 1590.9L1679.6 1591.1L1684.0 1591.1L1684.0 1589.1L1688.4 1589.1L1688.4 1586.5L1691.7 1586.5L1691.7 1590.7L1695.1 1590.7L1695.1 1585.4L1696.0 1585.4L1696.0 1572.6L1700.4 1572.6L1700.4 1570.6L1703.0 1570.6L1703.0 1573.3L1706.9 1573.3L1706.9 1578.3L1711.9 1578.3L1711.9 1572.7L1716.7 1572.7L1716.7 1591.2L1719.4 1591.2L1719.4 1596.7L1723.1 1596.7L1723.1 1592.4L1726.7 1592.4L1726.7 1595.9L1730.3 1595.9L1730.3 1597.1L1734.5 1597.1L1734.5 1596.3L1735.0 1596.3L1735.0 1597.9L1737.8 1597.9L1737.8 1595.4L1741.0 1595.4L1741.0 1597.0L1744.5 1597.0L1744.5 1592.6L1747.5 1592.6L1747.5 1591.7L1750.6 1591.7L1750.6 1595.5L1753.3 1595.5L1753.3 1593.9L1756.6 1593.9L1756.6 1594.9L1761.6 1594.9L1761.6 1597.6L1764.7 1597.6L1764.7 1599.3L1768.8 1599.3L1768.8 1594.6L1771.6 1594.6L1771.6 1597.9L1773.3 1597.9L1773.3 1597.4L1778.1 1597.4L1778.1 1598.1L1781.4 1598.1L1781.4 1605.8L1784.3 1605.8L1784.3 1605.4L1788.3 1605.4L1788.3 1604.8L1789.3 1604.8L1789.3 1582.7L1793.0 1582.7L1793.0 1588.8L1797.4 1588.8L1797.4 1585.7L1800.2 1585.7L1800.2 1582.3L1804.2 1582.3L1804.2 1581.6L1807.6 1581.6L1807.6 1582.6L1810.6 1582.6L1810.6 1586.2L1814.6 1586.2L1814.7 1570.4L1817.7 1570.4L1817.7 1576.4L1821.0 1576.4L1821.0 1573.1L1823.3 1573.1L1823.3 1510.9L1826.3 1510.9L1826.3 1510.5L1829.0 1510.5L1829.0 1509.7L1832.9 1509.7L1832.9 1510.5L1835.8 1510.5L1835.8 1511.9L1839.0 1511.9L1839.0 1510.4L1842.3 1510.4L1842.3 1512.0L1845.8 1512.0L1845.8 1511.3L1849.2 1511.3L1849.2 1511.8L1852.2 1511.8L1852.2 1510.5L1853.3 1510.5L1853.3 1750.5Z" fill="#0000ff"/>
<path d="M366.5 1512V1750" stroke="#0000ff" stroke-width="2" stroke-dasharray="2.5 1.2" fill="none"/>
<g fill="none" stroke="#1010ff" stroke-width="1.2">
<ellipse cx="410.3" cy="1556.1" rx="8.5" ry="2.7"/>
<ellipse cx="410.3" cy="1560.0" rx="8.5" ry="2.7"/>
<ellipse cx="410.3" cy="1563.9" rx="8.5" ry="2.7"/>
<ellipse cx="410.3" cy="1567.8" rx="8.5" ry="2.7"/>
<ellipse cx="410.3" cy="1571.7" rx="8.5" ry="2.7"/>
<ellipse cx="410.3" cy="1575.6" rx="8.5" ry="2.7"/>
<ellipse cx="410.3" cy="1579.5" rx="8.5" ry="2.7"/>
<ellipse cx="410.3" cy="1583.4" rx="8.5" ry="2.7"/>
<ellipse cx="410.3" cy="1587.3" rx="8.5" ry="2.7"/>
<ellipse cx="425.7" cy="1561.1" rx="9.8" ry="2.7"/>
<ellipse cx="425.7" cy="1565.0" rx="9.8" ry="2.7"/>
<ellipse cx="425.7" cy="1568.9" rx="9.8" ry="2.7"/>
<ellipse cx="425.7" cy="1572.8" rx="9.8" ry="2.7"/>
<ellipse cx="425.7" cy="1576.7" rx="9.8" ry="2.7"/>
<ellipse cx="425.7" cy="1580.6" rx="9.8" ry="2.7"/>
<ellipse cx="444.3" cy="1577.8" rx="7.2" ry="2.7"/>
<ellipse cx="444.3" cy="1581.7" rx="7.2" ry="2.7"/>
<ellipse cx="444.3" cy="1585.6" rx="7.2" ry="2.7"/>
<ellipse cx="453.7" cy="1584.5" rx="5.2" ry="2.7"/>
<ellipse cx="453.7" cy="1588.4" rx="5.2" ry="2.7"/>
<ellipse cx="453.7" cy="1592.3" rx="5.2" ry="2.7"/>
<ellipse cx="477.0" cy="1561.1" rx="10.5" ry="2.7"/>
<ellipse cx="477.0" cy="1565.0" rx="10.5" ry="2.7"/>
<ellipse cx="477.0" cy="1568.9" rx="10.5" ry="2.7"/>
<ellipse cx="477.0" cy="1572.8" rx="10.5" ry="2.7"/>
<ellipse cx="477.0" cy="1576.7" rx="10.5" ry="2.7"/>
<ellipse cx="477.0" cy="1580.6" rx="10.5" ry="2.7"/>
<ellipse cx="477.0" cy="1584.5" rx="10.5" ry="2.7"/>
<ellipse cx="477.0" cy="1588.4" rx="10.5" ry="2.7"/>
<ellipse cx="477.0" cy="1592.3" rx="10.5" ry="2.7"/>
<ellipse cx="477.0" cy="1596.2" rx="10.5" ry="2.7"/>
<ellipse cx="477.0" cy="1600.1" rx="10.5" ry="2.7"/>
<ellipse cx="492.3" cy="1596.1" rx="6.5" ry="2.7"/>
<ellipse cx="492.3" cy="1600.0" rx="6.5" ry="2.7"/>
<ellipse cx="492.3" cy="1603.9" rx="6.5" ry="2.7"/>
<ellipse cx="530.0" cy="1591.1" rx="10.5" ry="2.7"/>
<ellipse cx="530.0" cy="1595.0" rx="10.5" ry="2.7"/>
<ellipse cx="530.0" cy="1598.9" rx="10.5" ry="2.7"/>
<ellipse cx="530.0" cy="1602.8" rx="10.5" ry="2.7"/>
<ellipse cx="530.0" cy="1606.7" rx="10.5" ry="2.7"/>
<ellipse cx="563.3" cy="1569.5" rx="10.5" ry="2.7"/>
<ellipse cx="563.3" cy="1573.4" rx="10.5" ry="2.7"/>
<ellipse cx="563.3" cy="1577.3" rx="10.5" ry="2.7"/>
<ellipse cx="563.3" cy="1581.2" rx="10.5" ry="2.7"/>
<ellipse cx="563.3" cy="1585.1" rx="10.5" ry="2.7"/>
<ellipse cx="563.3" cy="1589.0" rx="10.5" ry="2.7"/>
<ellipse cx="563.3" cy="1592.9" rx="10.5" ry="2.7"/>
<ellipse cx="563.3" cy="1596.8" rx="10.5" ry="2.7"/>
<ellipse cx="585.0" cy="1561.1" rx="10.5" ry="2.7"/>
<ellipse cx="585.0" cy="1565.0" rx="10.5" ry="2.7"/>
<ellipse cx="585.0" cy="1568.9" rx="10.5" ry="2.7"/>
<ellipse cx="585.0" cy="1572.8" rx="10.5" ry="2.7"/>
<ellipse cx="585.0" cy="1576.7" rx="10.5" ry="2.7"/>
<ellipse cx="585.0" cy="1580.6" rx="10.5" ry="2.7"/>
<ellipse cx="585.0" cy="1584.5" rx="10.5" ry="2.7"/>
<ellipse cx="585.0" cy="1588.4" rx="10.5" ry="2.7"/>
<ellipse cx="598.7" cy="1576.1" rx="3.5" ry="2.7"/>
<ellipse cx="598.7" cy="1580.0" rx="3.5" ry="2.7"/>
<ellipse cx="598.7" cy="1583.9" rx="3.5" ry="2.7"/>
<ellipse cx="598.7" cy="1587.8" rx="3.5" ry="2.7"/>
<ellipse cx="598.7" cy="1591.7" rx="3.5" ry="2.7"/>
<ellipse cx="609.0" cy="1516.1" rx="9.8" ry="2.7"/>
<ellipse cx="609.0" cy="1519.6" rx="9.8" ry="2.7"/>
<ellipse cx="609.0" cy="1523.1" rx="9.8" ry="2.7"/>
<ellipse cx="609.0" cy="1526.6" rx="9.8" ry="2.7"/>
<ellipse cx="609.0" cy="1530.1" rx="9.8" ry="2.7"/>
<ellipse cx="609.0" cy="1533.6" rx="9.8" ry="2.7"/>
<ellipse cx="609.0" cy="1537.1" rx="9.8" ry="2.7"/>
<ellipse cx="609.0" cy="1540.6" rx="9.8" ry="2.7"/>
<ellipse cx="609.0" cy="1544.1" rx="9.8" ry="2.7"/>
<ellipse cx="609.0" cy="1547.6" rx="9.8" ry="2.7"/>
<ellipse cx="609.0" cy="1551.1" rx="9.8" ry="2.7"/>
<ellipse cx="609.0" cy="1554.6" rx="9.8" ry="2.7"/>
<ellipse cx="609.0" cy="1558.1" rx="9.8" ry="2.7"/>
<ellipse cx="609.0" cy="1561.6" rx="9.8" ry="2.7"/>
<ellipse cx="609.0" cy="1565.1" rx="9.8" ry="2.7"/>
<ellipse cx="609.0" cy="1568.6" rx="9.8" ry="2.7"/>
<ellipse cx="609.0" cy="1572.1" rx="9.8" ry="2.7"/>
<ellipse cx="609.0" cy="1575.6" rx="9.8" ry="2.7"/>
<ellipse cx="609.0" cy="1579.1" rx="9.8" ry="2.7"/>
<ellipse cx="609.0" cy="1582.6" rx="9.8" ry="2.7"/>
<ellipse cx="609.0" cy="1586.1" rx="9.8" ry="2.7"/>
<ellipse cx="609.0" cy="1589.6" rx="9.8" ry="2.7"/>
<ellipse cx="609.0" cy="1593.1" rx="9.8" ry="2.7"/>
<ellipse cx="609.0" cy="1596.6" rx="9.8" ry="2.7"/>
<ellipse cx="609.0" cy="1600.1" rx="9.8" ry="2.7"/>
<ellipse cx="626.3" cy="1512.8" rx="10.5" ry="2.7"/>
<ellipse cx="626.3" cy="1516.3" rx="10.5" ry="2.7"/>
<ellipse cx="626.3" cy="1519.8" rx="10.5" ry="2.7"/>
<ellipse cx="626.3" cy="1523.3" rx="10.5" ry="2.7"/>
<ellipse cx="626.3" cy="1526.8" rx="10.5" ry="2.7"/>
<ellipse cx="626.3" cy="1530.3" rx="10.5" ry="2.7"/>
<ellipse cx="626.3" cy="1533.8" rx="10.5" ry="2.7"/>
<ellipse cx="626.3" cy="1537.3" rx="10.5" ry="2.7"/>
<ellipse cx="626.3" cy="1540.8" rx="10.5" ry="2.7"/>
<ellipse cx="626.3" cy="1544.3" rx="10.5" ry="2.7"/>
<ellipse cx="626.3" cy="1547.8" rx="10.5" ry="2.7"/>
<ellipse cx="626.3" cy="1551.3" rx="10.5" ry="2.7"/>
<ellipse cx="626.3" cy="1554.8" rx="10.5" ry="2.7"/>
<ellipse cx="626.3" cy="1558.3" rx="10.5" ry="2.7"/>
<ellipse cx="626.3" cy="1561.8" rx="10.5" ry="2.7"/>
<ellipse cx="626.3" cy="1565.3" rx="10.5" ry="2.7"/>
<ellipse cx="626.3" cy="1568.8" rx="10.5" ry="2.7"/>
<ellipse cx="626.3" cy="1572.3" rx="10.5" ry="2.7"/>
<ellipse cx="626.3" cy="1575.8" rx="10.5" ry="2.7"/>
<ellipse cx="626.3" cy="1579.3" rx="10.5" ry="2.7"/>
<ellipse cx="626.3" cy="1582.8" rx="10.5" ry="2.7"/>
<ellipse cx="626.3" cy="1586.3" rx="10.5" ry="2.7"/>
<ellipse cx="626.3" cy="1589.8" rx="10.5" ry="2.7"/>
<ellipse cx="651.7" cy="1569.5" rx="9.8" ry="2.7"/>
<ellipse cx="651.7" cy="1573.4" rx="9.8" ry="2.7"/>
<ellipse cx="651.7" cy="1577.3" rx="9.8" ry="2.7"/>
<ellipse cx="651.7" cy="1581.2" rx="9.8" ry="2.7"/>
<ellipse cx="651.7" cy="1585.1" rx="9.8" ry="2.7"/>
<ellipse cx="651.7" cy="1589.0" rx="9.8" ry="2.7"/>
<ellipse cx="651.7" cy="1592.9" rx="9.8" ry="2.7"/>
<ellipse cx="670.3" cy="1564.5" rx="10.5" ry="2.7"/>
<ellipse cx="670.3" cy="1568.4" rx="10.5" ry="2.7"/>
<ellipse cx="670.3" cy="1572.3" rx="10.5" ry="2.7"/>
<ellipse cx="670.3" cy="1576.2" rx="10.5" ry="2.7"/>
<ellipse cx="670.3" cy="1580.1" rx="10.5" ry="2.7"/>
<ellipse cx="692.5" cy="1574.5" rx="10.5" ry="2.7"/>
<ellipse cx="692.5" cy="1578.4" rx="10.5" ry="2.7"/>
<ellipse cx="692.5" cy="1582.3" rx="10.5" ry="2.7"/>
<ellipse cx="692.5" cy="1586.2" rx="10.5" ry="2.7"/>
<ellipse cx="692.5" cy="1590.1" rx="10.5" ry="2.7"/>
<ellipse cx="717.0" cy="1566.1" rx="8.5" ry="2.7"/>
<ellipse cx="717.0" cy="1570.0" rx="8.5" ry="2.7"/>
<ellipse cx="717.0" cy="1573.9" rx="8.5" ry="2.7"/>
<ellipse cx="717.0" cy="1577.8" rx="8.5" ry="2.7"/>
<ellipse cx="717.0" cy="1581.7" rx="8.5" ry="2.7"/>
<ellipse cx="717.0" cy="1585.6" rx="8.5" ry="2.7"/>
<ellipse cx="717.0" cy="1589.5" rx="8.5" ry="2.7"/>
<ellipse cx="717.0" cy="1593.4" rx="8.5" ry="2.7"/>
<ellipse cx="717.0" cy="1597.3" rx="8.5" ry="2.7"/>
<ellipse cx="734.0" cy="1539.5" rx="10.5" ry="2.7"/>
<ellipse cx="734.0" cy="1543.0" rx="10.5" ry="2.7"/>
<ellipse cx="734.0" cy="1546.5" rx="10.5" ry="2.7"/>
<ellipse cx="734.0" cy="1550.0" rx="10.5" ry="2.7"/>
<ellipse cx="734.0" cy="1553.5" rx="10.5" ry="2.7"/>
<ellipse cx="734.0" cy="1557.0" rx="10.5" ry="2.7"/>
<ellipse cx="734.0" cy="1560.5" rx="10.5" ry="2.7"/>
<ellipse cx="734.0" cy="1564.0" rx="10.5" ry="2.7"/>
<ellipse cx="734.0" cy="1567.5" rx="10.5" ry="2.7"/>
<ellipse cx="734.0" cy="1571.0" rx="10.5" ry="2.7"/>
<ellipse cx="734.0" cy="1574.5" rx="10.5" ry="2.7"/>
<ellipse cx="734.0" cy="1578.0" rx="10.5" ry="2.7"/>
<ellipse cx="734.0" cy="1581.5" rx="10.5" ry="2.7"/>
<ellipse cx="734.0" cy="1585.0" rx="10.5" ry="2.7"/>
<ellipse cx="734.0" cy="1588.5" rx="10.5" ry="2.7"/>
<ellipse cx="734.0" cy="1592.0" rx="10.5" ry="2.7"/>
<ellipse cx="753.7" cy="1582.8" rx="10.5" ry="2.7"/>
<ellipse cx="753.7" cy="1586.7" rx="10.5" ry="2.7"/>
<ellipse cx="753.7" cy="1590.6" rx="10.5" ry="2.7"/>
<ellipse cx="753.7" cy="1594.5" rx="10.5" ry="2.7"/>
<ellipse cx="753.7" cy="1598.4" rx="10.5" ry="2.7"/>
<ellipse cx="753.7" cy="1602.3" rx="10.5" ry="2.7"/>
<ellipse cx="753.7" cy="1606.2" rx="10.5" ry="2.7"/>
<ellipse cx="775.0" cy="1576.1" rx="6.5" ry="2.7"/>
<ellipse cx="775.0" cy="1580.0" rx="6.5" ry="2.7"/>
<ellipse cx="775.0" cy="1583.9" rx="6.5" ry="2.7"/>
<ellipse cx="775.0" cy="1587.8" rx="6.5" ry="2.7"/>
<ellipse cx="775.0" cy="1591.7" rx="6.5" ry="2.7"/>
<ellipse cx="790.0" cy="1561.1" rx="10.5" ry="2.7"/>
<ellipse cx="790.0" cy="1565.0" rx="10.5" ry="2.7"/>
<ellipse cx="790.0" cy="1568.9" rx="10.5" ry="2.7"/>
<ellipse cx="790.0" cy="1572.8" rx="10.5" ry="2.7"/>
<ellipse cx="790.0" cy="1576.7" rx="10.5" ry="2.7"/>
<ellipse cx="790.0" cy="1580.6" rx="10.5" ry="2.7"/>
<ellipse cx="816.7" cy="1551.1" rx="10.5" ry="2.7"/>
<ellipse cx="816.7" cy="1555.0" rx="10.5" ry="2.7"/>
<ellipse cx="816.7" cy="1558.9" rx="10.5" ry="2.7"/>
<ellipse cx="816.7" cy="1562.8" rx="10.5" ry="2.7"/>
<ellipse cx="816.7" cy="1566.7" rx="10.5" ry="2.7"/>
<ellipse cx="816.7" cy="1570.6" rx="10.5" ry="2.7"/>
<ellipse cx="816.7" cy="1574.5" rx="10.5" ry="2.7"/>
<ellipse cx="816.7" cy="1578.4" rx="10.5" ry="2.7"/>
<ellipse cx="816.7" cy="1582.3" rx="10.5" ry="2.7"/>
<ellipse cx="836.7" cy="1546.1" rx="10.5" ry="2.7"/>
<ellipse cx="836.7" cy="1550.0" rx="10.5" ry="2.7"/>
<ellipse cx="836.7" cy="1553.9" rx="10.5" ry="2.7"/>
<ellipse cx="836.7" cy="1557.8" rx="10.5" ry="2.7"/>
<ellipse cx="836.7" cy="1561.7" rx="10.5" ry="2.7"/>
<ellipse cx="836.7" cy="1565.6" rx="10.5" ry="2.7"/>
<ellipse cx="836.7" cy="1569.5" rx="10.5" ry="2.7"/>
<ellipse cx="836.7" cy="1573.4" rx="10.5" ry="2.7"/>
<ellipse cx="856.2" cy="1556.1" rx="10.5" ry="2.7"/>
<ellipse cx="856.2" cy="1560.0" rx="10.5" ry="2.7"/>
<ellipse cx="856.2" cy="1563.9" rx="10.5" ry="2.7"/>
<ellipse cx="856.2" cy="1567.8" rx="10.5" ry="2.7"/>
<ellipse cx="856.2" cy="1571.7" rx="10.5" ry="2.7"/>
<ellipse cx="856.2" cy="1575.6" rx="10.5" ry="2.7"/>
<ellipse cx="856.2" cy="1579.5" rx="10.5" ry="2.7"/>
<ellipse cx="856.2" cy="1583.4" rx="10.5" ry="2.7"/>
<ellipse cx="872.8" cy="1576.1" rx="8.7" ry="2.7"/>
<ellipse cx="872.8" cy="1580.0" rx="8.7" ry="2.7"/>
<ellipse cx="872.8" cy="1583.9" rx="8.7" ry="2.7"/>
<ellipse cx="872.8" cy="1587.8" rx="8.7" ry="2.7"/>
<ellipse cx="886.7" cy="1552.8" rx="8.2" ry="2.7"/>
<ellipse cx="886.7" cy="1556.7" rx="8.2" ry="2.7"/>
<ellipse cx="886.7" cy="1560.6" rx="8.2" ry="2.7"/>
<ellipse cx="886.7" cy="1564.5" rx="8.2" ry="2.7"/>
<ellipse cx="886.7" cy="1568.4" rx="8.2" ry="2.7"/>
<ellipse cx="886.7" cy="1572.3" rx="8.2" ry="2.7"/>
<ellipse cx="886.7" cy="1576.2" rx="8.2" ry="2.7"/>
<ellipse cx="886.7" cy="1580.1" rx="8.2" ry="2.7"/>
<ellipse cx="902.0" cy="1546.1" rx="10.2" ry="2.7"/>
<ellipse cx="902.0" cy="1550.0" rx="10.2" ry="2.7"/>
<ellipse cx="902.0" cy="1553.9" rx="10.2" ry="2.7"/>
<ellipse cx="902.0" cy="1557.8" rx="10.2" ry="2.7"/>
<ellipse cx="902.0" cy="1561.7" rx="10.2" ry="2.7"/>
<ellipse cx="902.0" cy="1565.6" rx="10.2" ry="2.7"/>
<ellipse cx="902.0" cy="1569.5" rx="10.2" ry="2.7"/>
<ellipse cx="902.0" cy="1573.4" rx="10.2" ry="2.7"/>
<ellipse cx="919.3" cy="1551.1" rx="10.2" ry="2.7"/>
<ellipse cx="919.3" cy="1555.0" rx="10.2" ry="2.7"/>
<ellipse cx="919.3" cy="1558.9" rx="10.2" ry="2.7"/>
<ellipse cx="919.3" cy="1562.8" rx="10.2" ry="2.7"/>
<ellipse cx="919.3" cy="1566.7" rx="10.2" ry="2.7"/>
<ellipse cx="919.3" cy="1570.6" rx="10.2" ry="2.7"/>
<ellipse cx="919.3" cy="1574.5" rx="10.2" ry="2.7"/>
<ellipse cx="919.3" cy="1578.4" rx="10.2" ry="2.7"/>
<ellipse cx="939.2" cy="1537.8" rx="10.5" ry="2.7"/>
<ellipse cx="939.2" cy="1541.7" rx="10.5" ry="2.7"/>
<ellipse cx="939.2" cy="1545.6" rx="10.5" ry="2.7"/>
<ellipse cx="939.2" cy="1549.5" rx="10.5" ry="2.7"/>
<ellipse cx="939.2" cy="1553.4" rx="10.5" ry="2.7"/>
<ellipse cx="939.2" cy="1557.3" rx="10.5" ry="2.7"/>
<ellipse cx="939.2" cy="1561.2" rx="10.5" ry="2.7"/>
<ellipse cx="939.2" cy="1565.1" rx="10.5" ry="2.7"/>
<ellipse cx="939.2" cy="1569.0" rx="10.5" ry="2.7"/>
<ellipse cx="939.2" cy="1572.9" rx="10.5" ry="2.7"/>
<ellipse cx="939.2" cy="1576.8" rx="10.5" ry="2.7"/>
<ellipse cx="960.0" cy="1564.5" rx="10.5" ry="2.7"/>
<ellipse cx="960.0" cy="1568.4" rx="10.5" ry="2.7"/>
<ellipse cx="960.0" cy="1572.3" rx="10.5" ry="2.7"/>
<ellipse cx="960.0" cy="1576.2" rx="10.5" ry="2.7"/>
<ellipse cx="960.0" cy="1580.1" rx="10.5" ry="2.7"/>
<ellipse cx="975.0" cy="1579.5" rx="6.5" ry="2.7"/>
<ellipse cx="975.0" cy="1583.4" rx="6.5" ry="2.7"/>
<ellipse cx="975.0" cy="1587.3" rx="6.5" ry="2.7"/>
<ellipse cx="991.3" cy="1524.5" rx="10.5" ry="2.7"/>
<ellipse cx="991.3" cy="1528.0" rx="10.5" ry="2.7"/>
<ellipse cx="991.3" cy="1531.5" rx="10.5" ry="2.7"/>
<ellipse cx="991.3" cy="1535.0" rx="10.5" ry="2.7"/>
<ellipse cx="991.3" cy="1538.5" rx="10.5" ry="2.7"/>
<ellipse cx="991.3" cy="1542.0" rx="10.5" ry="2.7"/>
<ellipse cx="991.3" cy="1545.5" rx="10.5" ry="2.7"/>
<ellipse cx="991.3" cy="1549.0" rx="10.5" ry="2.7"/>
<ellipse cx="991.3" cy="1552.5" rx="10.5" ry="2.7"/>
<ellipse cx="991.3" cy="1556.0" rx="10.5" ry="2.7"/>
<ellipse cx="991.3" cy="1559.5" rx="10.5" ry="2.7"/>
<ellipse cx="991.3" cy="1563.0" rx="10.5" ry="2.7"/>
<ellipse cx="991.3" cy="1566.5" rx="10.5" ry="2.7"/>
<ellipse cx="991.3" cy="1570.0" rx="10.5" ry="2.7"/>
<ellipse cx="991.3" cy="1573.5" rx="10.5" ry="2.7"/>
<ellipse cx="991.3" cy="1577.0" rx="10.5" ry="2.7"/>
<ellipse cx="991.3" cy="1580.5" rx="10.5" ry="2.7"/>
<ellipse cx="991.3" cy="1584.0" rx="10.5" ry="2.7"/>
<ellipse cx="991.3" cy="1587.5" rx="10.5" ry="2.7"/>
<ellipse cx="991.3" cy="1591.0" rx="10.5" ry="2.7"/>
<ellipse cx="991.3" cy="1594.5" rx="10.5" ry="2.7"/>
<ellipse cx="991.3" cy="1598.0" rx="10.5" ry="2.7"/>
<ellipse cx="1004.0" cy="1589.5" rx="2.8" ry="2.7"/>
<ellipse cx="1004.0" cy="1593.4" rx="2.8" ry="2.7"/>
<ellipse cx="1004.0" cy="1597.3" rx="2.8" ry="2.7"/>
<ellipse cx="1014.3" cy="1551.1" rx="10.5" ry="2.7"/>
<ellipse cx="1014.3" cy="1554.6" rx="10.5" ry="2.7"/>
<ellipse cx="1014.3" cy="1558.1" rx="10.5" ry="2.7"/>
<ellipse cx="1014.3" cy="1561.6" rx="10.5" ry="2.7"/>
<ellipse cx="1014.3" cy="1565.1" rx="10.5" ry="2.7"/>
<ellipse cx="1014.3" cy="1568.6" rx="10.5" ry="2.7"/>
<ellipse cx="1014.3" cy="1572.1" rx="10.5" ry="2.7"/>
<ellipse cx="1014.3" cy="1575.6" rx="10.5" ry="2.7"/>
<ellipse cx="1014.3" cy="1579.1" rx="10.5" ry="2.7"/>
<ellipse cx="1014.3" cy="1582.6" rx="10.5" ry="2.7"/>
<ellipse cx="1014.3" cy="1586.1" rx="10.5" ry="2.7"/>
<ellipse cx="1014.3" cy="1589.6" rx="10.5" ry="2.7"/>
<ellipse cx="1014.3" cy="1593.1" rx="10.5" ry="2.7"/>
<ellipse cx="1014.3" cy="1596.6" rx="10.5" ry="2.7"/>
<ellipse cx="1014.3" cy="1600.1" rx="10.5" ry="2.7"/>
<ellipse cx="1039.2" cy="1546.1" rx="10.5" ry="2.7"/>
<ellipse cx="1039.2" cy="1549.6" rx="10.5" ry="2.7"/>
<ellipse cx="1039.2" cy="1553.1" rx="10.5" ry="2.7"/>
<ellipse cx="1039.2" cy="1556.6" rx="10.5" ry="2.7"/>
<ellipse cx="1039.2" cy="1560.1" rx="10.5" ry="2.7"/>
<ellipse cx="1039.2" cy="1563.6" rx="10.5" ry="2.7"/>
<ellipse cx="1039.2" cy="1567.1" rx="10.5" ry="2.7"/>
<ellipse cx="1039.2" cy="1570.6" rx="10.5" ry="2.7"/>
<ellipse cx="1039.2" cy="1574.1" rx="10.5" ry="2.7"/>
<ellipse cx="1039.2" cy="1577.6" rx="10.5" ry="2.7"/>
<ellipse cx="1039.2" cy="1581.1" rx="10.5" ry="2.7"/>
<ellipse cx="1039.2" cy="1584.6" rx="10.5" ry="2.7"/>
<ellipse cx="1039.2" cy="1588.1" rx="10.5" ry="2.7"/>
<ellipse cx="1039.2" cy="1591.6" rx="10.5" ry="2.7"/>
<ellipse cx="1039.2" cy="1595.1" rx="10.5" ry="2.7"/>
<ellipse cx="1039.2" cy="1598.6" rx="10.5" ry="2.7"/>
<ellipse cx="1056.7" cy="1581.1" rx="8.2" ry="2.7"/>
<ellipse cx="1056.7" cy="1585.0" rx="8.2" ry="2.7"/>
<ellipse cx="1073.3" cy="1577.8" rx="10.5" ry="2.7"/>
<ellipse cx="1073.3" cy="1581.7" rx="10.5" ry="2.7"/>
<ellipse cx="1073.3" cy="1585.6" rx="10.5" ry="2.7"/>
<ellipse cx="1073.3" cy="1589.5" rx="10.5" ry="2.7"/>
<ellipse cx="1073.3" cy="1593.4" rx="10.5" ry="2.7"/>
<ellipse cx="1093.3" cy="1564.5" rx="10.5" ry="2.7"/>
<ellipse cx="1093.3" cy="1568.4" rx="10.5" ry="2.7"/>
<ellipse cx="1093.3" cy="1572.3" rx="10.5" ry="2.7"/>
<ellipse cx="1093.3" cy="1576.2" rx="10.5" ry="2.7"/>
<ellipse cx="1093.3" cy="1580.1" rx="10.5" ry="2.7"/>
<ellipse cx="1093.3" cy="1584.0" rx="10.5" ry="2.7"/>
<ellipse cx="1093.3" cy="1587.9" rx="10.5" ry="2.7"/>
<ellipse cx="1093.3" cy="1591.8" rx="10.5" ry="2.7"/>
<ellipse cx="1093.3" cy="1595.7" rx="10.5" ry="2.7"/>
<ellipse cx="1093.3" cy="1599.6" rx="10.5" ry="2.7"/>
<ellipse cx="1119.2" cy="1577.8" rx="10.5" ry="2.7"/>
<ellipse cx="1119.2" cy="1581.7" rx="10.5" ry="2.7"/>
<ellipse cx="1119.2" cy="1585.6" rx="10.5" ry="2.7"/>
<ellipse cx="1119.2" cy="1589.5" rx="10.5" ry="2.7"/>
<ellipse cx="1119.2" cy="1593.4" rx="10.5" ry="2.7"/>
<ellipse cx="1119.2" cy="1597.3" rx="10.5" ry="2.7"/>
<ellipse cx="1119.2" cy="1601.2" rx="10.5" ry="2.7"/>
<ellipse cx="1119.2" cy="1605.1" rx="10.5" ry="2.7"/>
<ellipse cx="1145.0" cy="1561.1" rx="10.5" ry="2.7"/>
<ellipse cx="1145.0" cy="1565.0" rx="10.5" ry="2.7"/>
<ellipse cx="1145.0" cy="1568.9" rx="10.5" ry="2.7"/>
<ellipse cx="1145.0" cy="1572.8" rx="10.5" ry="2.7"/>
<ellipse cx="1145.0" cy="1576.7" rx="10.5" ry="2.7"/>
<ellipse cx="1160.8" cy="1572.8" rx="7.3" ry="2.7"/>
<ellipse cx="1160.8" cy="1576.7" rx="7.3" ry="2.7"/>
<ellipse cx="1160.8" cy="1580.6" rx="7.3" ry="2.7"/>
<ellipse cx="1160.8" cy="1584.5" rx="7.3" ry="2.7"/>
<ellipse cx="1160.8" cy="1588.4" rx="7.3" ry="2.7"/>
<ellipse cx="1188.3" cy="1577.8" rx="10.5" ry="2.7"/>
<ellipse cx="1188.3" cy="1581.7" rx="10.5" ry="2.7"/>
<ellipse cx="1188.3" cy="1585.6" rx="10.5" ry="2.7"/>
<ellipse cx="1188.3" cy="1589.5" rx="10.5" ry="2.7"/>
<ellipse cx="1188.3" cy="1593.4" rx="10.5" ry="2.7"/>
<ellipse cx="1210.8" cy="1556.1" rx="10.5" ry="2.7"/>
<ellipse cx="1210.8" cy="1560.0" rx="10.5" ry="2.7"/>
<ellipse cx="1210.8" cy="1563.9" rx="10.5" ry="2.7"/>
<ellipse cx="1210.8" cy="1567.8" rx="10.5" ry="2.7"/>
<ellipse cx="1210.8" cy="1571.7" rx="10.5" ry="2.7"/>
<ellipse cx="1210.8" cy="1575.6" rx="10.5" ry="2.7"/>
<ellipse cx="1210.8" cy="1579.5" rx="10.5" ry="2.7"/>
<ellipse cx="1240.0" cy="1567.8" rx="10.5" ry="2.7"/>
<ellipse cx="1240.0" cy="1571.7" rx="10.5" ry="2.7"/>
<ellipse cx="1240.0" cy="1575.6" rx="10.5" ry="2.7"/>
<ellipse cx="1240.0" cy="1579.5" rx="10.5" ry="2.7"/>
<ellipse cx="1240.0" cy="1583.4" rx="10.5" ry="2.7"/>
<ellipse cx="1240.0" cy="1587.3" rx="10.5" ry="2.7"/>
<ellipse cx="1240.0" cy="1591.2" rx="10.5" ry="2.7"/>
<ellipse cx="1240.0" cy="1595.1" rx="10.5" ry="2.7"/>
<ellipse cx="1240.0" cy="1599.0" rx="10.5" ry="2.7"/>
<ellipse cx="1256.7" cy="1586.1" rx="8.2" ry="2.7"/>
<ellipse cx="1256.7" cy="1590.0" rx="8.2" ry="2.7"/>
<ellipse cx="1256.7" cy="1593.9" rx="8.2" ry="2.7"/>
<ellipse cx="1256.7" cy="1597.8" rx="8.2" ry="2.7"/>
<ellipse cx="1256.7" cy="1601.7" rx="8.2" ry="2.7"/>
<ellipse cx="1256.7" cy="1605.6" rx="8.2" ry="2.7"/>
<ellipse cx="1280.8" cy="1574.5" rx="10.5" ry="2.7"/>
<ellipse cx="1280.8" cy="1578.4" rx="10.5" ry="2.7"/>
<ellipse cx="1280.8" cy="1582.3" rx="10.5" ry="2.7"/>
<ellipse cx="1280.8" cy="1586.2" rx="10.5" ry="2.7"/>
<ellipse cx="1280.8" cy="1590.1" rx="10.5" ry="2.7"/>
<ellipse cx="1298.3" cy="1582.8" rx="8.2" ry="2.7"/>
<ellipse cx="1298.3" cy="1586.7" rx="8.2" ry="2.7"/>
<ellipse cx="1298.3" cy="1590.6" rx="8.2" ry="2.7"/>
<ellipse cx="1298.3" cy="1594.5" rx="8.2" ry="2.7"/>
<ellipse cx="1298.3" cy="1598.4" rx="8.2" ry="2.7"/>
<ellipse cx="1317.2" cy="1577.8" rx="7.0" ry="2.7"/>
<ellipse cx="1317.2" cy="1581.7" rx="7.0" ry="2.7"/>
<ellipse cx="1317.2" cy="1585.6" rx="7.0" ry="2.7"/>
<ellipse cx="1317.2" cy="1589.5" rx="7.0" ry="2.7"/>
<ellipse cx="1317.2" cy="1593.4" rx="7.0" ry="2.7"/>
<ellipse cx="1333.0" cy="1567.8" rx="10.5" ry="2.7"/>
<ellipse cx="1333.0" cy="1571.7" rx="10.5" ry="2.7"/>
<ellipse cx="1333.0" cy="1575.6" rx="10.5" ry="2.7"/>
<ellipse cx="1333.0" cy="1579.5" rx="10.5" ry="2.7"/>
<ellipse cx="1333.0" cy="1583.4" rx="10.5" ry="2.7"/>
<ellipse cx="1333.0" cy="1587.3" rx="10.5" ry="2.7"/>
<ellipse cx="1333.0" cy="1591.2" rx="10.5" ry="2.7"/>
<ellipse cx="1333.0" cy="1595.1" rx="10.5" ry="2.7"/>
<ellipse cx="1333.0" cy="1599.0" rx="10.5" ry="2.7"/>
<ellipse cx="1347.0" cy="1589.5" rx="5.2" ry="2.7"/>
<ellipse cx="1347.0" cy="1593.4" rx="5.2" ry="2.7"/>
<ellipse cx="1347.0" cy="1597.3" rx="5.2" ry="2.7"/>
<ellipse cx="1530.8" cy="1582.8" rx="10.5" ry="2.7"/>
<ellipse cx="1530.8" cy="1586.7" rx="10.5" ry="2.7"/>
<ellipse cx="1530.8" cy="1590.6" rx="10.5" ry="2.7"/>
<ellipse cx="1530.8" cy="1594.5" rx="10.5" ry="2.7"/>
<ellipse cx="1530.8" cy="1598.4" rx="10.5" ry="2.7"/>
<ellipse cx="1530.8" cy="1602.3" rx="10.5" ry="2.7"/>
<ellipse cx="1530.8" cy="1606.2" rx="10.5" ry="2.7"/>
<ellipse cx="1557.0" cy="1562.8" rx="5.2" ry="2.7"/>
<ellipse cx="1557.0" cy="1566.7" rx="5.2" ry="2.7"/>
<ellipse cx="1557.0" cy="1570.6" rx="5.2" ry="2.7"/>
<ellipse cx="1557.0" cy="1574.5" rx="5.2" ry="2.7"/>
<ellipse cx="1557.0" cy="1578.4" rx="5.2" ry="2.7"/>
<ellipse cx="1557.0" cy="1582.3" rx="5.2" ry="2.7"/>
<ellipse cx="1557.0" cy="1586.2" rx="5.2" ry="2.7"/>
<ellipse cx="1557.0" cy="1590.1" rx="5.2" ry="2.7"/>
<ellipse cx="1557.0" cy="1594.0" rx="5.2" ry="2.7"/>
<ellipse cx="1557.0" cy="1597.9" rx="5.2" ry="2.7"/>
<ellipse cx="1557.0" cy="1601.8" rx="5.2" ry="2.7"/>
<ellipse cx="1557.0" cy="1605.7" rx="5.2" ry="2.7"/>
<ellipse cx="1570.7" cy="1512.1" rx="10.5" ry="2.7"/>
<ellipse cx="1570.7" cy="1515.6" rx="10.5" ry="2.7"/>
<ellipse cx="1570.7" cy="1519.1" rx="10.5" ry="2.7"/>
<ellipse cx="1570.7" cy="1522.6" rx="10.5" ry="2.7"/>
<ellipse cx="1570.7" cy="1526.1" rx="10.5" ry="2.7"/>
<ellipse cx="1570.7" cy="1529.6" rx="10.5" ry="2.7"/>
<ellipse cx="1570.7" cy="1533.1" rx="10.5" ry="2.7"/>
<ellipse cx="1570.7" cy="1536.6" rx="10.5" ry="2.7"/>
<ellipse cx="1570.7" cy="1540.1" rx="10.5" ry="2.7"/>
<ellipse cx="1570.7" cy="1543.6" rx="10.5" ry="2.7"/>
<ellipse cx="1570.7" cy="1547.1" rx="10.5" ry="2.7"/>
<ellipse cx="1570.7" cy="1550.6" rx="10.5" ry="2.7"/>
<ellipse cx="1570.7" cy="1554.1" rx="10.5" ry="2.7"/>
<ellipse cx="1570.7" cy="1557.6" rx="10.5" ry="2.7"/>
<ellipse cx="1570.7" cy="1561.1" rx="10.5" ry="2.7"/>
<ellipse cx="1570.7" cy="1564.6" rx="10.5" ry="2.7"/>
<ellipse cx="1570.7" cy="1568.1" rx="10.5" ry="2.7"/>
<ellipse cx="1570.7" cy="1571.6" rx="10.5" ry="2.7"/>
<ellipse cx="1570.7" cy="1575.1" rx="10.5" ry="2.7"/>
<ellipse cx="1570.7" cy="1578.6" rx="10.5" ry="2.7"/>
<ellipse cx="1570.7" cy="1582.1" rx="10.5" ry="2.7"/>
<ellipse cx="1570.7" cy="1585.6" rx="10.5" ry="2.7"/>
<ellipse cx="1570.7" cy="1589.1" rx="10.5" ry="2.7"/>
<ellipse cx="1570.7" cy="1592.6" rx="10.5" ry="2.7"/>
<ellipse cx="1570.7" cy="1596.1" rx="10.5" ry="2.7"/>
<ellipse cx="1570.7" cy="1599.6" rx="10.5" ry="2.7"/>
<ellipse cx="1603.7" cy="1556.1" rx="10.5" ry="2.7"/>
<ellipse cx="1603.7" cy="1560.0" rx="10.5" ry="2.7"/>
<ellipse cx="1603.7" cy="1563.9" rx="10.5" ry="2.7"/>
<ellipse cx="1603.7" cy="1567.8" rx="10.5" ry="2.7"/>
<ellipse cx="1603.7" cy="1571.7" rx="10.5" ry="2.7"/>
<ellipse cx="1603.7" cy="1575.6" rx="10.5" ry="2.7"/>
<ellipse cx="1603.7" cy="1579.5" rx="10.5" ry="2.7"/>
<ellipse cx="1603.7" cy="1583.4" rx="10.5" ry="2.7"/>
<ellipse cx="1603.7" cy="1587.3" rx="10.5" ry="2.7"/>
<ellipse cx="1603.7" cy="1591.2" rx="10.5" ry="2.7"/>
<ellipse cx="1603.7" cy="1595.1" rx="10.5" ry="2.7"/>
<ellipse cx="1603.7" cy="1599.0" rx="10.5" ry="2.7"/>
<ellipse cx="1623.7" cy="1596.1" rx="10.5" ry="2.7"/>
<ellipse cx="1623.7" cy="1600.0" rx="10.5" ry="2.7"/>
<ellipse cx="1623.7" cy="1603.9" rx="10.5" ry="2.7"/>
<ellipse cx="1623.7" cy="1607.8" rx="10.5" ry="2.7"/>
<ellipse cx="1642.7" cy="1591.1" rx="10.5" ry="2.7"/>
<ellipse cx="1642.7" cy="1595.0" rx="10.5" ry="2.7"/>
<ellipse cx="1642.7" cy="1598.9" rx="10.5" ry="2.7"/>
<ellipse cx="1642.7" cy="1602.8" rx="10.5" ry="2.7"/>
<ellipse cx="1642.7" cy="1606.7" rx="10.5" ry="2.7"/>
<ellipse cx="1661.3" cy="1529.5" rx="10.5" ry="2.7"/>
<ellipse cx="1661.3" cy="1533.0" rx="10.5" ry="2.7"/>
<ellipse cx="1661.3" cy="1536.5" rx="10.5" ry="2.7"/>
<ellipse cx="1661.3" cy="1540.0" rx="10.5" ry="2.7"/>
<ellipse cx="1661.3" cy="1543.5" rx="10.5" ry="2.7"/>
<ellipse cx="1661.3" cy="1547.0" rx="10.5" ry="2.7"/>
<ellipse cx="1661.3" cy="1550.5" rx="10.5" ry="2.7"/>
<ellipse cx="1661.3" cy="1554.0" rx="10.5" ry="2.7"/>
<ellipse cx="1661.3" cy="1557.5" rx="10.5" ry="2.7"/>
<ellipse cx="1661.3" cy="1561.0" rx="10.5" ry="2.7"/>
<ellipse cx="1661.3" cy="1564.5" rx="10.5" ry="2.7"/>
<ellipse cx="1661.3" cy="1568.0" rx="10.5" ry="2.7"/>
<ellipse cx="1661.3" cy="1571.5" rx="10.5" ry="2.7"/>
<ellipse cx="1661.3" cy="1575.0" rx="10.5" ry="2.7"/>
<ellipse cx="1661.3" cy="1578.5" rx="10.5" ry="2.7"/>
<ellipse cx="1661.3" cy="1582.0" rx="10.5" ry="2.7"/>
<ellipse cx="1661.3" cy="1585.5" rx="10.5" ry="2.7"/>
<ellipse cx="1661.3" cy="1589.0" rx="10.5" ry="2.7"/>
<ellipse cx="1661.3" cy="1592.5" rx="10.5" ry="2.7"/>
<ellipse cx="1673.7" cy="1589.5" rx="4.5" ry="2.7"/>
<ellipse cx="1673.7" cy="1593.4" rx="4.5" ry="2.7"/>
<ellipse cx="1686.3" cy="1551.1" rx="10.5" ry="2.7"/>
<ellipse cx="1686.3" cy="1555.0" rx="10.5" ry="2.7"/>
<ellipse cx="1686.3" cy="1558.9" rx="10.5" ry="2.7"/>
<ellipse cx="1686.3" cy="1562.8" rx="10.5" ry="2.7"/>
<ellipse cx="1686.3" cy="1566.7" rx="10.5" ry="2.7"/>
<ellipse cx="1686.3" cy="1570.6" rx="10.5" ry="2.7"/>
<ellipse cx="1686.3" cy="1574.5" rx="10.5" ry="2.7"/>
<ellipse cx="1686.3" cy="1578.4" rx="10.5" ry="2.7"/>
<ellipse cx="1686.3" cy="1582.3" rx="10.5" ry="2.7"/>
<ellipse cx="1686.3" cy="1586.2" rx="10.5" ry="2.7"/>
<ellipse cx="1686.3" cy="1590.1" rx="10.5" ry="2.7"/>
<ellipse cx="1706.3" cy="1532.8" rx="10.5" ry="2.7"/>
<ellipse cx="1706.3" cy="1536.3" rx="10.5" ry="2.7"/>
<ellipse cx="1706.3" cy="1539.8" rx="10.5" ry="2.7"/>
<ellipse cx="1706.3" cy="1543.3" rx="10.5" ry="2.7"/>
<ellipse cx="1706.3" cy="1546.8" rx="10.5" ry="2.7"/>
<ellipse cx="1706.3" cy="1550.3" rx="10.5" ry="2.7"/>
<ellipse cx="1706.3" cy="1553.8" rx="10.5" ry="2.7"/>
<ellipse cx="1706.3" cy="1557.3" rx="10.5" ry="2.7"/>
<ellipse cx="1706.3" cy="1560.8" rx="10.5" ry="2.7"/>
<ellipse cx="1706.3" cy="1564.3" rx="10.5" ry="2.7"/>
<ellipse cx="1706.3" cy="1567.8" rx="10.5" ry="2.7"/>
<ellipse cx="1706.3" cy="1571.3" rx="10.5" ry="2.7"/>
<ellipse cx="1706.3" cy="1574.8" rx="10.5" ry="2.7"/>
<ellipse cx="1706.3" cy="1578.3" rx="10.5" ry="2.7"/>
<ellipse cx="1725.8" cy="1569.5" rx="10.5" ry="2.7"/>
<ellipse cx="1725.8" cy="1573.4" rx="10.5" ry="2.7"/>
<ellipse cx="1725.8" cy="1577.3" rx="10.5" ry="2.7"/>
<ellipse cx="1725.8" cy="1581.2" rx="10.5" ry="2.7"/>
<ellipse cx="1725.8" cy="1585.1" rx="10.5" ry="2.7"/>
<ellipse cx="1725.8" cy="1589.0" rx="10.5" ry="2.7"/>
<ellipse cx="1725.8" cy="1592.9" rx="10.5" ry="2.7"/>
<ellipse cx="1725.8" cy="1596.8" rx="10.5" ry="2.7"/>
<ellipse cx="1744.2" cy="1582.8" rx="10.5" ry="2.7"/>
<ellipse cx="1744.2" cy="1586.7" rx="10.5" ry="2.7"/>
<ellipse cx="1744.2" cy="1590.6" rx="10.5" ry="2.7"/>
<ellipse cx="1744.2" cy="1594.5" rx="10.5" ry="2.7"/>
<ellipse cx="1744.2" cy="1598.4" rx="10.5" ry="2.7"/>
<ellipse cx="1763.3" cy="1542.8" rx="10.5" ry="2.7"/>
<ellipse cx="1763.3" cy="1546.3" rx="10.5" ry="2.7"/>
<ellipse cx="1763.3" cy="1549.8" rx="10.5" ry="2.7"/>
<ellipse cx="1763.3" cy="1553.3" rx="10.5" ry="2.7"/>
<ellipse cx="1763.3" cy="1556.8" rx="10.5" ry="2.7"/>
<ellipse cx="1763.3" cy="1560.3" rx="10.5" ry="2.7"/>
<ellipse cx="1763.3" cy="1563.8" rx="10.5" ry="2.7"/>
<ellipse cx="1763.3" cy="1567.3" rx="10.5" ry="2.7"/>
<ellipse cx="1763.3" cy="1570.8" rx="10.5" ry="2.7"/>
<ellipse cx="1763.3" cy="1574.3" rx="10.5" ry="2.7"/>
<ellipse cx="1763.3" cy="1577.8" rx="10.5" ry="2.7"/>
<ellipse cx="1763.3" cy="1581.3" rx="10.5" ry="2.7"/>
<ellipse cx="1763.3" cy="1584.8" rx="10.5" ry="2.7"/>
<ellipse cx="1763.3" cy="1588.3" rx="10.5" ry="2.7"/>
<ellipse cx="1763.3" cy="1591.8" rx="10.5" ry="2.7"/>
<ellipse cx="1763.3" cy="1595.3" rx="10.5" ry="2.7"/>
<ellipse cx="1763.3" cy="1598.8" rx="10.5" ry="2.7"/>
<ellipse cx="1781.3" cy="1596.1" rx="9.5" ry="2.7"/>
<ellipse cx="1781.3" cy="1600.0" rx="9.5" ry="2.7"/>
<ellipse cx="1781.3" cy="1603.9" rx="9.5" ry="2.7"/>
<ellipse cx="1802.0" cy="1569.5" rx="10.5" ry="2.7"/>
<ellipse cx="1802.0" cy="1573.4" rx="10.5" ry="2.7"/>
<ellipse cx="1802.0" cy="1577.3" rx="10.5" ry="2.7"/>
<ellipse cx="1802.0" cy="1581.2" rx="10.5" ry="2.7"/>
<ellipse cx="1802.0" cy="1585.1" rx="10.5" ry="2.7"/>
<ellipse cx="1802.0" cy="1589.0" rx="10.5" ry="2.7"/>
</g>
<path d="M413.9 1602.2h2.3M405.3 1589.7h2.4M410.0 1607.3h2.8M414.3 1591.8h2.9M426.5 1593.1h2.2M424.7 1586.8h2.2M421.5 1597.3h2.4M430.9 1585.7h3.0M424.5 1605.2h2.0M447.7 1591.5h2.3M439.8 1612.4h2.7M447.8 1599.5h1.8M450.3 1618.6h2.0M452.1 1618.0h3.0M478.2 1625.8h2.7M469.7 1624.7h2.3M470.8 1614.0h1.7M482.5 1625.9h2.8M470.1 1608.8h2.5M474.1 1617.2h2.7M490.4 1609.4h3.0M489.3 1626.3h2.8M494.5 1607.2h2.1M530.1 1627.2h1.7M520.7 1629.5h1.9M522.1 1622.8h2.3M529.9 1623.6h2.3M525.5 1617.8h1.8M530.5 1617.9h1.8M565.2 1611.8h2.4M561.2 1600.0h2.4M564.5 1613.0h2.0M557.6 1620.7h3.0M567.4 1612.2h2.5M556.6 1612.6h1.6M575.6 1594.6h2.1M582.5 1593.6h2.7M582.8 1605.3h2.0M574.2 1608.8h2.5M575.1 1611.5h1.5M589.9 1605.3h2.0M574.5 1605.1h2.8M597.4 1619.3h2.4M602.7 1623.3h2.5M615.3 1619.8h1.8M612.6 1604.8h2.2M615.1 1613.1h2.3M614.7 1625.0h1.9M620.0 1611.4h2.5M632.2 1591.2h2.3M622.9 1610.5h3.0M619.9 1614.4h2.4M621.7 1612.2h2.1M645.4 1606.7h1.7M656.8 1598.5h1.7M647.2 1606.8h2.6M648.0 1593.7h1.7M646.0 1597.2h1.7M677.5 1598.4h1.8M676.7 1584.1h2.3M674.7 1582.6h2.7M669.9 1597.2h2.4M666.7 1603.8h2.7M670.4 1595.6h1.6M699.0 1595.6h1.5M701.2 1610.3h2.7M689.4 1615.0h2.0M686.9 1620.4h2.6M693.0 1602.8h2.0M696.7 1605.1h1.8M712.1 1620.2h1.9M710.6 1622.3h1.6M713.0 1617.2h2.9M721.8 1615.7h2.4M735.9 1601.4h2.0M724.0 1593.6h2.2M726.7 1609.9h2.1M731.8 1607.0h1.6M740.1 1596.4h2.8M728.1 1611.0h2.4M744.4 1606.1h2.9M750.2 1609.0h2.2M750.2 1612.3h2.4M754.1 1622.5h1.9M747.5 1623.5h1.6M752.2 1609.8h2.9M777.5 1599.5h2.8M771.2 1595.3h2.0M775.1 1617.1h2.8M794.1 1593.9h2.7M784.8 1583.0h2.0M791.6 1598.4h2.4M786.3 1600.7h2.9M788.0 1608.9h2.2M793.2 1589.6h2.9M822.9 1583.9h1.9M816.2 1594.0h2.1M810.9 1584.3h2.6M820.7 1583.0h1.8M816.6 1609.0h2.0M809.2 1588.3h2.8M837.6 1586.9h2.2M838.2 1595.4h2.7M829.8 1581.3h1.9M832.1 1574.0h1.8M842.7 1594.6h2.0M839.5 1572.8h1.8M861.0 1603.5h3.0M854.6 1603.4h1.9M854.4 1589.0h2.3M848.5 1589.2h1.7M847.3 1592.1h2.3M874.9 1608.8h2.1M876.1 1609.3h2.1M868.9 1604.8h1.6M871.0 1611.4h1.7M885.9 1590.1h2.7M887.3 1609.7h2.0M882.5 1607.3h1.9M880.2 1590.0h1.8M897.0 1596.8h1.9M907.8 1596.9h1.9M898.3 1600.6h1.6M898.4 1582.7h2.5M907.2 1593.7h2.0M921.3 1598.0h1.7M925.7 1592.5h2.6M923.5 1598.9h1.6M923.8 1591.6h1.9M921.8 1595.3h2.8M934.4 1585.3h1.7M940.6 1581.5h2.2M946.2 1583.4h2.8M928.9 1582.3h2.7M946.6 1589.0h1.7M931.1 1580.1h2.0M950.7 1598.7h2.6M961.4 1598.8h2.1M963.3 1581.2h2.9M960.6 1589.5h1.8M964.7 1602.3h2.9M966.0 1581.2h2.3M976.9 1614.9h1.8M977.6 1592.3h2.2M971.6 1592.5h1.7M980.7 1623.1h2.6M996.8 1617.1h1.9M997.1 1617.0h2.8M985.9 1602.1h2.4M982.0 1620.5h2.1M984.2 1608.3h1.9M988.8 1599.9h2.4M1009.4 1607.2h1.8M1016.8 1609.6h2.8M1010.5 1626.3h1.7M1013.4 1623.2h2.3M1015.2 1600.2h2.3M1036.5 1611.6h1.9M1043.5 1609.0h2.7M1042.2 1614.4h2.1M1032.6 1623.5h2.5M1030.1 1622.3h2.4M1031.7 1599.4h2.0M1052.3 1609.0h2.1M1061.1 1587.8h1.6M1055.6 1601.4h1.8M1059.0 1592.8h2.8M1072.2 1602.4h2.0M1078.3 1600.0h2.5M1080.3 1600.6h1.7M1067.2 1612.3h2.3M1072.3 1595.7h2.0M1074.8 1594.9h2.3M1097.5 1618.9h1.9M1097.5 1616.9h1.6M1089.7 1610.6h2.0M1090.4 1624.3h1.8M1084.9 1624.2h1.7M1083.8 1605.1h2.6M1113.5 1631.2h1.9M1118.2 1616.6h2.1M1125.7 1612.5h2.9M1117.4 1620.9h2.7M1123.2 1627.1h2.8M1121.0 1615.8h2.8M1140.9 1583.7h1.7M1150.2 1597.9h1.9M1148.4 1584.1h1.5M1142.9 1601.0h2.5M1145.4 1582.9h2.5M1143.3 1604.1h2.0M1157.3 1594.7h2.1M1157.9 1609.0h2.5M1163.2 1593.7h2.5M1180.0 1599.6h1.9M1183.6 1607.3h2.8M1180.1 1601.9h2.0M1180.7 1620.0h2.4M1192.2 1595.5h1.8M1197.2 1595.5h1.7M1184.9 1620.2h2.9M1215.6 1599.9h2.6M1208.6 1584.8h2.6M1212.5 1582.3h1.6M1204.1 1590.2h1.6M1200.7 1590.5h1.7M1215.6 1598.7h1.8M1239.0 1617.0h2.0M1238.3 1603.3h2.1M1240.9 1610.7h1.6M1243.3 1624.8h2.0M1237.7 1615.4h2.5M1243.5 1611.1h1.8M1252.6 1626.2h2.8M1260.0 1627.7h2.4M1257.9 1629.9h2.6M1257.7 1624.0h1.9M1278.9 1598.1h2.2M1282.4 1592.1h2.5M1278.3 1611.2h2.0M1284.0 1607.0h1.5M1274.9 1601.2h2.8M1279.0 1606.7h2.7M1296.3 1618.2h1.9M1302.2 1604.5h1.6M1299.1 1621.1h2.8M1296.1 1613.0h2.4M1320.4 1597.1h1.6M1316.6 1600.5h1.9M1318.7 1622.3h1.7M1332.4 1602.2h2.7M1333.4 1614.5h1.8M1336.1 1613.7h2.9M1334.6 1622.5h2.6M1332.4 1610.8h1.6M1340.4 1605.2h2.5M1347.0 1610.3h2.1M1347.4 1602.8h2.6M1519.2 1528.8h2.7M1493.3 1525.1h1.9M1502.9 1513.1h1.6M1503.4 1531.8h2.9M1511.2 1528.6h2.1M1499.1 1522.8h2.9M1512.4 1555.6h2.5M1506.4 1522.5h2.6M1514.1 1530.5h2.7M1497.6 1518.4h2.4M1513.4 1549.6h2.2M1509.4 1534.0h1.6M1507.4 1522.9h2.5M1518.7 1528.7h2.1M1509.6 1550.0h2.3M1514.5 1534.0h2.9M1499.9 1537.6h1.7M1495.2 1550.7h2.6M1501.6 1551.5h1.6M1499.2 1529.7h2.6M1498.8 1532.0h2.7M1496.9 1512.6h1.9M1511.9 1525.4h2.3M1498.5 1526.3h3.0M1505.1 1532.1h2.5M1509.5 1542.7h2.3M1501.8 1555.1h1.9M1515.6 1515.1h1.6M1514.8 1554.0h2.0M1513.6 1518.9h2.1M1514.9 1541.5h1.8M1492.1 1513.0h2.0M1518.3 1542.6h1.7M1498.7 1517.2h2.6M1495.7 1523.2h2.5M1513.4 1528.4h1.9M1495.9 1553.9h1.9M1513.8 1520.2h2.3M1516.6 1540.4h2.2M1513.5 1543.1h2.9M1516.7 1548.6h2.0M1515.2 1521.5h1.9M1511.1 1536.8h2.8M1512.4 1532.6h1.7M1516.4 1537.9h2.3M1499.1 1523.2h2.0M1495.6 1535.1h2.7M1493.3 1533.9h2.3M1495.7 1535.0h2.6M1505.6 1537.2h1.8M1515.8 1512.8h2.5M1515.2 1533.9h2.4M1507.4 1543.0h2.2M1515.2 1529.7h2.6M1503.4 1556.5h2.7M1522.9 1623.8h1.7M1532.1 1606.8h1.9M1531.6 1625.1h2.0M1536.9 1615.3h1.8M1537.7 1620.3h1.6M1555.9 1631.1h1.9M1553.5 1626.1h1.8M1571.9 1608.8h2.6M1576.2 1609.6h2.2M1569.2 1614.0h1.7M1574.5 1605.2h2.0M1568.5 1611.2h2.2M1570.6 1622.5h2.0M1598.8 1622.5h1.8M1600.9 1613.4h1.6M1598.4 1613.5h1.5M1611.5 1617.7h3.0M1608.1 1608.6h2.6M1599.3 1607.7h1.6M1624.2 1627.1h2.6M1627.6 1610.5h3.0M1626.5 1634.1h2.3M1623.5 1610.7h1.7M1619.2 1609.5h2.2M1617.3 1635.1h2.2M1643.5 1624.4h1.8M1646.5 1631.5h2.3M1643.5 1623.3h1.5M1643.8 1625.5h2.9M1643.3 1625.1h2.5M1655.5 1611.3h2.4M1659.6 1614.0h2.9M1653.7 1597.7h2.5M1652.6 1614.4h1.9M1667.2 1611.0h1.9M1672.1 1619.0h1.7M1690.3 1608.4h1.5M1681.1 1601.1h2.7M1684.0 1601.6h2.8M1684.1 1610.6h1.9M1692.9 1594.2h1.8M1686.5 1593.8h2.5M1698.2 1602.0h2.8M1706.7 1605.1h2.9M1704.3 1579.7h1.8M1703.2 1595.9h2.7M1713.5 1606.8h2.7M1704.9 1590.9h2.6M1718.3 1617.4h2.0M1720.1 1603.6h1.8M1716.9 1599.5h2.7M1727.8 1602.7h2.0M1732.5 1601.8h2.1M1749.2 1602.9h2.3M1735.3 1619.5h2.1M1739.0 1619.9h2.7M1738.1 1600.7h1.9M1747.6 1619.3h1.6M1768.7 1619.8h2.4M1754.9 1616.9h2.4M1766.1 1612.2h2.7M1770.1 1606.4h2.6M1770.7 1619.4h2.9M1753.5 1599.7h2.9M1782.4 1628.9h2.2M1774.4 1614.7h2.2M1783.5 1610.6h1.7M1785.4 1619.6h1.9M1774.2 1616.3h2.4M1802.7 1601.6h1.6M1805.1 1593.4h2.5M1807.9 1599.5h1.7M1804.4 1607.0h2.2M1799.1 1600.1h3.0M1807.7 1615.8h1.6M1807.6 1605.2h1.6M1831.5 1515.2h2.2M1850.6 1543.6h1.8M1846.5 1527.2h2.6M1840.3 1555.7h1.5M1846.6 1539.1h2.8M1832.0 1531.4h2.8M1848.2 1529.1h2.7M1842.5 1539.1h2.1M1848.4 1548.2h1.9M1831.3 1512.6h2.5M1830.7 1531.2h2.3M1839.8 1548.5h2.1M1848.2 1514.4h2.0M1846.7 1548.4h2.2M1847.6 1537.8h2.5M1831.0 1550.1h2.7M1845.9 1542.7h2.9M1848.9 1527.8h1.7M1825.7 1537.0h1.9M1845.7 1521.4h2.2M1844.3 1553.7h2.3M1829.9 1539.3h2.0M1842.3 1533.1h1.8M1829.1 1523.8h1.6M1844.4 1547.5h2.0M1836.2 1516.4h2.2M1845.9 1546.6h3.0M1829.9 1538.1h2.9M1848.4 1551.6h2.8M1837.9 1533.5h3.0M1839.8 1520.9h2.9M1828.7 1520.5h2.4M1843.0 1528.5h2.7M1839.1 1530.3h1.6M1837.8 1519.1h2.5M1824.6 1556.5h2.4M1833.8 1517.2h1.9M1841.1 1547.3h2.4M1827.7 1538.9h2.9M1833.0 1535.4h2.2M1823.9 1514.0h2.5M1851.1 1550.8h1.9M1837.0 1537.6h2.0M1830.7 1546.9h2.8M1835.3 1554.3h1.5M1844.8 1548.7h1.8M1850.3 1523.7h2.5M1824.4 1521.4h2.2M1828.4 1516.2h1.6M1824.8 1537.1h2.5M1847.7 1532.7h2.1M1849.9 1552.7h2.4M1825.1 1538.9h2.1M1834.5 1517.8h2.3M1850.2 1523.9h2.3M1205.4 1745.0h2.1M1785.5 1745.4h1.7M951.8 1742.9h1.8M606.4 1748.6h2.8M1837.7 1740.4h2.3M427.2 1740.8h1.7M891.0 1747.9h2.8M1708.8 1747.2h1.9M439.6 1746.7h1.6M1420.2 1745.1h2.3M1828.4 1738.6h1.9M584.3 1746.3h2.2M1760.3 1745.4h2.3M812.2 1744.5h1.8M1491.7 1739.2h2.4M849.4 1740.8h1.7M553.7 1743.3h2.3M619.5 1740.6h2.4M581.9 1745.5h1.6M388.7 1745.9h2.1M658.8 1738.4h1.6M1743.0 1740.4h2.2M1752.3 1747.5h2.8M1685.3 1739.5h2.3M1031.9 1739.1h2.6M1744.6 1747.3h2.6M1300.0 1743.0h1.7M872.9 1747.1h3.0M1076.8 1744.9h2.6M581.3 1740.4h1.7M454.0 1745.9h2.7M1189.0 1739.6h2.1M1658.7 1740.9h1.8M979.4 1739.7h2.9M771.2 1747.2h2.3M865.1 1739.8h2.7M1096.7 1741.5h1.7M1706.7 1739.3h2.7M1818.4 1738.6h1.6M1694.7 1745.4h1.9M682.5 1743.3h2.1M793.6 1740.8h1.5M668.4 1742.0h2.4M1836.7 1749.0h1.8M1739.1 1739.1h1.9M798.4 1747.9h2.6M455.1 1746.0h2.1M804.4 1748.8h2.8M393.7 1746.9h2.4M874.5 1739.5h2.8M372.8 1747.2h2.3M1149.3 1740.0h2.9M1014.2 1748.0h2.8M693.0 1744.3h1.8M574.4 1740.0h2.6M1510.3 1745.8h2.0M661.1 1738.9h2.6M499.4 1744.7h2.5M1103.3 1741.0h2.7M674.9 1744.7h1.7M1417.5 1746.9h2.1M1232.7 1740.2h2.6M467.2 1746.1h2.9M974.0 1745.9h2.6M452.0 1746.9h1.6M866.1 1747.3h2.4M1649.5 1743.4h1.6M392.9 1748.0h2.3M1075.4 1747.6h2.7M764.1 1740.0h1.7M1600.8 1742.0h2.9M612.0 1742.1h2.5M1250.4 1738.1h1.9M1139.3 1742.9h1.8M1133.1 1739.3h2.2M1427.6 1747.0h2.8M1650.9 1741.5h2.4M1422.6 1742.2h1.7M1481.9 1738.7h1.5M1661.7 1748.5h1.7M1102.3 1743.6h2.7M1155.2 1743.9h1.8M400.6 1748.6h2.3M701.1 1740.0h1.9M522.0 1740.8h2.5M1579.4 1738.3h2.1M512.8 1745.7h1.7M658.7 1738.2h2.8M1257.1 1744.3h2.3M1143.9 1745.7h2.5M522.2 1747.6h2.7M1431.3 1738.5h2.9M552.1 1743.4h1.5M1111.1 1741.1h2.0M550.6 1742.5h1.7M572.7 1744.5h2.3M1644.4 1739.6h2.8M1217.8 1746.2h2.7M613.2 1747.1h1.6M1757.6 1742.3h1.8M992.3 1747.2h2.7M1147.9 1742.4h2.5M1763.1 1746.5h2.1M871.1 1740.6h2.2M865.9 1742.8h1.7M1822.2 1746.8h2.8M1720.9 1747.0h2.1M1624.5 1738.6h2.8M1135.7 1748.5h2.4M1752.8 1740.7h1.6M994.8 1745.0h2.0M909.4 1743.8h1.8M472.5 1742.8h2.8M1117.1 1738.2h2.4M576.3 1748.7h1.6M1519.3 1748.3h1.8M1307.2 1746.9h2.0M1678.9 1747.7h2.2M420.9 1745.1h2.4M763.3 1745.5h2.1M774.7 1744.0h2.0M1738.1 1744.8h1.5M740.9 1743.7h2.4M1011.9 1748.5h2.0M795.5 1741.4h1.5M1328.3 1739.3h2.2M1249.5 1748.5h3.0M1130.4 1741.0h1.6M1060.3 1743.9h1.7M589.6 1739.4h2.5M564.4 1741.2h1.9M971.7 1741.2h1.9M730.2 1739.0h2.3M1178.5 1747.2h1.9M1272.7 1744.3h2.4M1332.5 1740.2h2.3M1421.3 1743.1h2.9M1181.1 1744.7h3.0M1064.1 1741.4h1.6M728.5 1740.4h2.3M1128.4 1742.2h2.7M1236.8 1738.1h2.8M891.9 1747.5h2.7M723.0 1744.1h2.4M1097.3 1741.1h2.5M1831.5 1741.3h2.0M1512.8 1739.7h1.9M468.9 1747.6h2.7M1021.2 1738.7h2.8M944.1 1742.8h2.9M1458.4 1739.2h2.5M703.2 1748.6h2.0M1463.2 1739.7h2.6M868.8 1741.9h2.6M1369.5 1744.8h2.3M1628.0 1747.0h2.5M1136.3 1746.1h2.0M1470.1 1746.4h2.3M1073.4 1746.6h2.1M1418.7 1748.1h1.6M558.4 1747.6h2.0M376.4 1746.4h2.0M1237.0 1743.5h3.0M1794.9 1744.3h2.2M988.5 1746.6h2.1M1661.7 1744.7h1.9M931.8 1743.0h1.9M1047.7 1746.0h2.0M803.5 1742.3h1.7M1191.9 1742.2h1.5M1380.0 1520.0h2.8M1380.0 1530.6h2.2M1380.0 1543.5h2.2M1380.0 1556.8h2.4M1380.0 1568.3h2.0M1380.0 1579.5h1.8M1380.0 1589.4h1.6M1380.0 1600.0h2.0M1380.0 1609.7h2.0M1380.0 1621.6h2.6M1380.0 1633.5h2.3M1380.0 1642.9h2.9M1380.0 1656.5h2.0M1380.0 1667.1h2.9M1380.0 1680.3h2.4M1380.0 1693.5h1.6M1380.0 1707.3h1.8M1380.0 1717.3h2.4M1380.0 1728.5h3.0M1380.0 1742.0h2.0M1427.0 1520.0h2.7M1427.0 1529.2h2.1M1427.0 1541.1h2.8M1427.0 1552.5h1.6M1427.0 1566.2h2.2M1427.0 1579.0h2.8M1427.0 1590.7h1.9M1427.0 1604.7h1.9M1427.0 1616.3h1.5M1427.0 1627.9h1.7M1427.0 1640.3h1.9M1427.0 1651.2h2.6M1427.0 1662.0h1.8M1427.0 1674.0h2.1M1427.0 1684.8h1.8M1427.0 1698.5h2.4M1427.0 1710.9h2.8M1427.0 1722.5h2.5M1427.0 1732.0h1.8M1427.0 1742.9h2.6" stroke="#8c8cff" stroke-width="1.1" fill="none"/>
<path d="M1545 1751V1745Q1550 1741 1556 1745V1751Z" fill="#fff"/>
<g stroke="#000" stroke-width="1.5" fill="none">
<rect x="358" y="1478.8" width="1537.6" height="274.2"/>
<path d="M438.9 1479V1752"/>
<path d="M519.8 1479V1752"/>
<path d="M600.8 1479V1752"/>
<path d="M681.7 1479V1752"/>
<path d="M762.6 1479V1752"/>
<path d="M843.5 1479V1752"/>
<path d="M924.4 1479V1752"/>
<path d="M1005.4 1479V1752"/>
<path d="M1086.3 1479V1752"/>
<path d="M1167.2 1479V1752"/>
<path d="M1248.1 1479V1752"/>
<path d="M1329.0 1479V1752"/>
<path d="M1410.0 1479V1752"/>
<path d="M1490.9 1479V1752"/>
<path d="M1571.8 1479V1752"/>
<path d="M1652.7 1479V1752"/>
<path d="M1733.6 1479V1752"/>
<path d="M1814.6 1479V1752"/>
</g>
<g stroke="#404040" stroke-width="2.5" fill="none">
<path d="M317.5 1367V1834"/>
<path d="M291 1376H317.5"/>
<path d="M291 1601H317.5"/>
<path d="M291 1826H317.5"/>
</g>
<path d="M1900.5 1367V1833" stroke="#505050" stroke-width="3.5"/>
<g stroke="#000" stroke-width="5.6" fill="none" stroke-linejoin="round">
<path d="M358 1769.5Q358 1796 362 1800Q364 1801.5 369 1801.5H388"/>
<path d="M439 1769.5Q439 1796 435 1800Q433 1801.5 428 1801.5H409"/>
<path d="M779.2 1979.2Q804 1979.5 808.5 1983Q811.1 1985 811.1 1990V2083"/>
<path d="M779.2 2204.9Q804 2204.5 808.5 2201Q811.1 2199 811.1 2194V2100"/>
<path d="M1443 1931Q1468 1931 1472.5 1935Q1474.6 1937 1474.6 1942V1955" stroke-width="5.1"/>
<path d="M1443 1995.2Q1468 1995 1472.5 1991Q1474.6 1989 1474.6 1984V1971" stroke-width="5.1"/>
</g>
<g fill="#000">
<path d="M386 1798.7H390Q396 1799 398.6 1804Q401 1799 407 1798.7H411V1804.3H408Q402.5 1806 401.2 1824L400.7 1858H396.5L396 1824Q394.7 1806 389 1804.3H386Z"/>
<path d="M808.3 2082H813.9Q814.5 2089 827 2089.5L867.5 2089.7V2094L827 2094.4Q814.5 2095 813.9 2102H808.3Q808.3 2095.5 812.3 2092Q808.3 2088.5 808.3 2082Z"/>
<path d="M1472.05 1953H1477.15Q1478 1959.5 1493 1960.6L1531.5 1961V1965L1493 1965.6Q1478 1966.5 1477.15 1973H1472.05Q1472.05 1966.5 1476.5 1963Q1472.05 1959.5 1472.05 1953Z"/>
</g>
<g stroke="#000" stroke-width="3.3" fill="none">
<path d="M664.5 1913V2219M616 2202H907M648 1961H680M648 2074H680"/>
<path d="M1296 1898V2203M1247 2188H1539M1280 1946H1312M1280 2058H1312"/>
</g>
<rect x="713" y="1962" width="40" height="240" fill="#00b050"/>
<rect x="1376.6" y="1961.8" width="50.5" height="226.2" fill="#00b050"/>
<path d="M1403.2 1939.6V1986M1386.8 1939.6H1419.5M1386.8 1986H1419.5" stroke="#000" stroke-width="4" fill="none"/>
<g font-family='"Liberation Sans", Arial, sans-serif'>
<text font-size="40" textLength="72.7" lengthAdjust="spacingAndGlyphs" x="214.5" y="1389">100</text>
<text font-size="40" textLength="49.4" lengthAdjust="spacingAndGlyphs" x="244.5" y="1614.5">50</text>
<text font-size="40" textLength="26.7" lengthAdjust="spacingAndGlyphs" x="244.5" y="1840">0</text>
<text font-size="40" text-anchor="middle" textLength="186.4" lengthAdjust="spacingAndGlyphs" transform="translate(200 1606) rotate(-90)">Coverage</text>
<text x="375" y="1451.5" font-size="40" textLength="56" lengthAdjust="spacingAndGlyphs">m<tspan font-size="27" dy="10">1</tspan></text>
<text x="455.6" y="1451.5" font-size="40" textLength="57" lengthAdjust="spacingAndGlyphs">m<tspan font-size="27" dy="10">2</tspan></text>
<text x="1816.5" y="1452" font-size="40" textLength="56" lengthAdjust="spacingAndGlyphs">m<tspan font-size="27" dy="10">n</tspan></text>
<text font-size="62" textLength="93.4" lengthAdjust="spacingAndGlyphs" x="553.3" y="1451.7">........</text>
<text font-size="40" textLength="73.6" lengthAdjust="spacingAndGlyphs" x="358.5" y="1886.5">5kb</text>
<text font-size="40" textLength="267.4" lengthAdjust="spacingAndGlyphs" x="989.8" y="1841">Base position</text>
<text font-size="40" textLength="25.4" lengthAdjust="spacingAndGlyphs" x="600.8" y="1984">2</text>
<text font-size="40" textLength="25.4" lengthAdjust="spacingAndGlyphs" x="600.8" y="2082">1</text>
<text font-size="40" textLength="25.4" lengthAdjust="spacingAndGlyphs" x="1232.8" y="1967">2</text>
<text font-size="40" textLength="25.4" lengthAdjust="spacingAndGlyphs" x="1232.8" y="2065">1</text>
<text font-size="40" textLength="241.4" lengthAdjust="spacingAndGlyphs" x="890.8" y="2047">Somy based</text>
<text font-size="40" textLength="272.4" lengthAdjust="spacingAndGlyphs" x="877.8" y="2105">on average of</text>
<text font-size="40" textLength="247.4" lengthAdjust="spacingAndGlyphs" x="889.8" y="2163">block means</text>
<text font-size="40" textLength="222.4" lengthAdjust="spacingAndGlyphs" x="1572.8" y="1918">Somy error</text>
<text font-size="40" textLength="200.4" lengthAdjust="spacingAndGlyphs" x="1584.8" y="1977">estimated</text>
<text font-size="40" textLength="182.4" lengthAdjust="spacingAndGlyphs" x="1592.8" y="2035">based on</text>
<text font-size="40" textLength="179.4" lengthAdjust="spacingAndGlyphs" x="1594.8" y="2093">standard</text>
<text font-size="40" textLength="239.4" lengthAdjust="spacingAndGlyphs" x="1565.8" y="2152">deviation of</text>
<text font-size="40" textLength="246.4" lengthAdjust="spacingAndGlyphs" x="1560.8" y="2209">block means</text>
</g>
</svg>
</body></html>
